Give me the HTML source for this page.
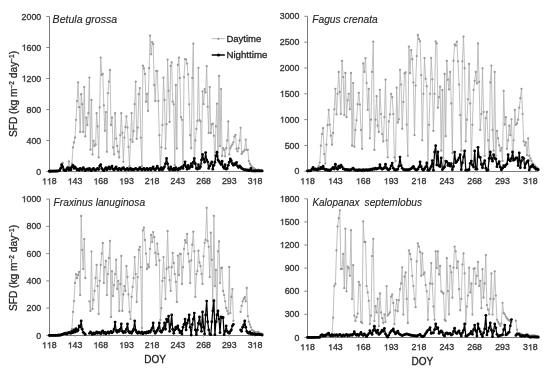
<!DOCTYPE html><html><head><meta charset="utf-8"><style>html,body{margin:0;padding:0;background:#fff;overflow:hidden}svg{display:block;will-change:transform}text{font-family:"Liberation Sans", sans-serif;stroke:#2a2a2a;stroke-width:0.3px;paint-order:stroke}</style></head><body>
<svg width="550" height="375" viewBox="0 0 550 375">
<rect width="550" height="375" fill="#fff"/>
<line x1="49.5" y1="16.5" x2="49.5" y2="171.5" stroke="#7c7c7c" stroke-width="1"/>
<line x1="46.30" y1="171.50" x2="49.5" y2="171.50" stroke="#7c7c7c" stroke-width="0.9"/>
<text x="36.31" y="174.60" font-size="8.8" fill="#333">0</text>
<line x1="46.30" y1="140.50" x2="49.5" y2="140.50" stroke="#7c7c7c" stroke-width="0.9"/>
<text x="26.52" y="143.60" font-size="8.8" fill="#333">4</text><text x="31.41" y="143.60" font-size="8.8" fill="#333">0</text><text x="36.31" y="143.60" font-size="8.8" fill="#333">0</text>
<line x1="46.30" y1="109.50" x2="49.5" y2="109.50" stroke="#7c7c7c" stroke-width="0.9"/>
<text x="26.52" y="112.60" font-size="8.8" fill="#333">8</text><text x="31.41" y="112.60" font-size="8.8" fill="#333">0</text><text x="36.31" y="112.60" font-size="8.8" fill="#333">0</text>
<line x1="46.30" y1="78.50" x2="49.5" y2="78.50" stroke="#7c7c7c" stroke-width="0.9"/>
<path d="M763,0L583,0L583,1147C540,1106 483,1064 412,1023C341,982 277,951 223,931L223,1105C320,1150 405,1206 478,1270C551,1334 603,1390 630,1409L763,1409Z" transform="translate(21.62,81.60) scale(0.00430,-0.00430)" fill="#333" stroke="#2a2a2a" stroke-width="0.3" vector-effect="non-scaling-stroke"/><text x="26.52" y="81.60" font-size="8.8" fill="#333">2</text><text x="31.41" y="81.60" font-size="8.8" fill="#333">0</text><text x="36.31" y="81.60" font-size="8.8" fill="#333">0</text>
<line x1="46.30" y1="47.50" x2="49.5" y2="47.50" stroke="#7c7c7c" stroke-width="0.9"/>
<path d="M763,0L583,0L583,1147C540,1106 483,1064 412,1023C341,982 277,951 223,931L223,1105C320,1150 405,1206 478,1270C551,1334 603,1390 630,1409L763,1409Z" transform="translate(21.62,50.60) scale(0.00430,-0.00430)" fill="#333" stroke="#2a2a2a" stroke-width="0.3" vector-effect="non-scaling-stroke"/><text x="26.52" y="50.60" font-size="8.8" fill="#333">6</text><text x="31.41" y="50.60" font-size="8.8" fill="#333">0</text><text x="36.31" y="50.60" font-size="8.8" fill="#333">0</text>
<line x1="46.30" y1="16.50" x2="49.5" y2="16.50" stroke="#7c7c7c" stroke-width="0.9"/>
<text x="21.62" y="19.60" font-size="8.8" fill="#333">2</text><text x="26.52" y="19.60" font-size="8.8" fill="#333">0</text><text x="31.41" y="19.60" font-size="8.8" fill="#333">0</text><text x="36.31" y="19.60" font-size="8.8" fill="#333">0</text>
<line x1="49.5" y1="171.5" x2="262.2" y2="171.5" stroke="#7c7c7c" stroke-width="1"/>
<line x1="49.30" y1="171.5" x2="49.30" y2="173.70" stroke="#bbb" stroke-width="0.8"/>
<path d="M763,0L583,0L583,1147C540,1106 483,1064 412,1023C341,982 277,951 223,931L223,1105C320,1150 405,1206 478,1270C551,1334 603,1390 630,1409L763,1409Z" transform="translate(41.96,184.40) scale(0.00430,-0.00430)" fill="#333" stroke="#2a2a2a" stroke-width="0.3" vector-effect="non-scaling-stroke"/><path d="M763,0L583,0L583,1147C540,1106 483,1064 412,1023C341,982 277,951 223,931L223,1105C320,1150 405,1206 478,1270C551,1334 603,1390 630,1409L763,1409Z" transform="translate(46.85,184.40) scale(0.00430,-0.00430)" fill="#333" stroke="#2a2a2a" stroke-width="0.3" vector-effect="non-scaling-stroke"/><text x="51.75" y="184.40" font-size="8.8" fill="#333">8</text>
<line x1="75.01" y1="171.5" x2="75.01" y2="173.70" stroke="#bbb" stroke-width="0.8"/>
<path d="M763,0L583,0L583,1147C540,1106 483,1064 412,1023C341,982 277,951 223,931L223,1105C320,1150 405,1206 478,1270C551,1334 603,1390 630,1409L763,1409Z" transform="translate(67.67,184.40) scale(0.00430,-0.00430)" fill="#333" stroke="#2a2a2a" stroke-width="0.3" vector-effect="non-scaling-stroke"/><text x="72.57" y="184.40" font-size="8.8" fill="#333">4</text><text x="77.46" y="184.40" font-size="8.8" fill="#333">3</text>
<line x1="100.73" y1="171.5" x2="100.73" y2="173.70" stroke="#bbb" stroke-width="0.8"/>
<path d="M763,0L583,0L583,1147C540,1106 483,1064 412,1023C341,982 277,951 223,931L223,1105C320,1150 405,1206 478,1270C551,1334 603,1390 630,1409L763,1409Z" transform="translate(93.38,184.40) scale(0.00430,-0.00430)" fill="#333" stroke="#2a2a2a" stroke-width="0.3" vector-effect="non-scaling-stroke"/><text x="98.28" y="184.40" font-size="8.8" fill="#333">6</text><text x="103.17" y="184.40" font-size="8.8" fill="#333">8</text>
<line x1="126.44" y1="171.5" x2="126.44" y2="173.70" stroke="#bbb" stroke-width="0.8"/>
<path d="M763,0L583,0L583,1147C540,1106 483,1064 412,1023C341,982 277,951 223,931L223,1105C320,1150 405,1206 478,1270C551,1334 603,1390 630,1409L763,1409Z" transform="translate(119.10,184.40) scale(0.00430,-0.00430)" fill="#333" stroke="#2a2a2a" stroke-width="0.3" vector-effect="non-scaling-stroke"/><text x="123.99" y="184.40" font-size="8.8" fill="#333">9</text><text x="128.88" y="184.40" font-size="8.8" fill="#333">3</text>
<line x1="152.15" y1="171.5" x2="152.15" y2="173.70" stroke="#bbb" stroke-width="0.8"/>
<text x="144.81" y="184.40" font-size="8.8" fill="#333">2</text><path d="M763,0L583,0L583,1147C540,1106 483,1064 412,1023C341,982 277,951 223,931L223,1105C320,1150 405,1206 478,1270C551,1334 603,1390 630,1409L763,1409Z" transform="translate(149.70,184.40) scale(0.00430,-0.00430)" fill="#333" stroke="#2a2a2a" stroke-width="0.3" vector-effect="non-scaling-stroke"/><text x="154.60" y="184.40" font-size="8.8" fill="#333">8</text>
<line x1="177.86" y1="171.5" x2="177.86" y2="173.70" stroke="#bbb" stroke-width="0.8"/>
<text x="170.52" y="184.40" font-size="8.8" fill="#333">2</text><text x="175.42" y="184.40" font-size="8.8" fill="#333">4</text><text x="180.31" y="184.40" font-size="8.8" fill="#333">3</text>
<line x1="203.58" y1="171.5" x2="203.58" y2="173.70" stroke="#bbb" stroke-width="0.8"/>
<text x="196.23" y="184.40" font-size="8.8" fill="#333">2</text><text x="201.13" y="184.40" font-size="8.8" fill="#333">6</text><text x="206.02" y="184.40" font-size="8.8" fill="#333">8</text>
<line x1="229.29" y1="171.5" x2="229.29" y2="173.70" stroke="#bbb" stroke-width="0.8"/>
<text x="221.95" y="184.40" font-size="8.8" fill="#333">2</text><text x="226.84" y="184.40" font-size="8.8" fill="#333">9</text><text x="231.73" y="184.40" font-size="8.8" fill="#333">3</text>
<line x1="255.00" y1="171.5" x2="255.00" y2="173.70" stroke="#bbb" stroke-width="0.8"/>
<text x="247.66" y="184.40" font-size="8.8" fill="#333">3</text><path d="M763,0L583,0L583,1147C540,1106 483,1064 412,1023C341,982 277,951 223,931L223,1105C320,1150 405,1206 478,1270C551,1334 603,1390 630,1409L763,1409Z" transform="translate(252.55,184.40) scale(0.00430,-0.00430)" fill="#333" stroke="#2a2a2a" stroke-width="0.3" vector-effect="non-scaling-stroke"/><text x="257.45" y="184.40" font-size="8.8" fill="#333">8</text>
<text x="52.6" y="23.0" font-size="10.4" font-style="italic" fill="#222" style="stroke-width:0.12px" textLength="64.6" lengthAdjust="spacingAndGlyphs">Betula grossa</text>
<path d="M49.3,170.9 50.3,171.2 51.4,170.7 52.4,171.0 53.4,170.6 54.4,171.1 55.5,170.7 56.5,170.4 57.5,170.9 58.6,170.3 59.6,169.9 60.6,168.8 61.6,165.9 62.7,163.0 63.7,168.4 64.7,169.6 65.8,169.9 66.8,168.0 67.8,169.2 68.8,161.4 69.9,166.8 70.9,168.4 71.9,163.8 73.0,147.5 74.0,142.5 75.0,137.6 76.0,119.8 77.1,101.1 78.1,82.4 79.1,107.2 80.2,132.0 81.2,94.2 82.2,104.2 83.2,132.0 84.3,87.0 85.3,136.4 86.3,117.6 87.4,125.0 88.4,113.1 89.4,77.6 90.4,149.6 91.5,99.9 92.5,154.4 93.5,140.8 94.6,145.9 95.6,144.4 96.6,113.1 97.6,126.4 98.7,157.4 99.7,107.5 100.7,57.6 101.8,75.0 102.8,73.8 103.8,105.4 104.8,130.8 105.9,112.1 106.9,151.8 107.9,93.2 109.0,81.6 110.0,70.0 111.0,125.0 112.0,117.6 113.1,147.4 114.1,154.4 115.1,113.1 116.2,138.6 117.2,145.9 118.2,151.7 119.2,157.4 120.3,135.3 121.3,113.1 122.3,132.8 123.4,161.8 124.4,137.6 125.4,127.0 126.4,116.5 127.5,127.6 128.5,146.9 129.5,166.2 130.6,139.7 131.6,113.1 132.6,141.9 133.6,131.2 134.7,104.2 135.7,81.6 136.7,138.9 137.8,127.6 138.8,94.2 139.8,88.0 140.8,137.6 141.9,166.2 142.9,65.6 143.9,68.4 145.0,74.0 146.0,101.8 147.0,94.0 148.0,110.9 149.1,68.2 150.1,35.6 151.1,54.3 152.2,42.1 153.2,44.0 154.2,85.0 155.2,101.0 156.3,71.0 157.3,71.1 158.3,101.0 159.3,135.3 160.4,169.6 161.4,147.3 162.4,125.0 163.5,77.6 164.5,99.9 165.5,148.6 166.5,124.2 167.6,59.6 168.6,90.8 169.6,122.0 170.7,66.0 171.7,62.5 172.7,101.8 173.7,104.3 174.8,165.1 175.8,85.0 176.8,148.6 177.9,65.0 178.9,57.7 179.9,78.0 180.9,117.2 182.0,119.8 183.0,166.2 184.0,77.0 185.1,59.0 186.1,59.6 187.1,63.6 188.1,74.4 189.2,104.3 190.2,135.2 191.2,148.2 192.3,78.0 193.3,43.6 194.3,164.1 195.3,140.5 196.4,128.9 197.4,120.9 198.4,67.8 199.5,120.0 200.5,121.4 201.5,163.8 202.5,91.3 203.6,104.1 204.6,89.1 205.6,92.4 206.7,66.1 207.7,106.9 208.7,132.9 209.7,87.0 210.8,133.0 211.8,124.3 212.8,123.7 213.9,135.8 214.9,163.8 215.9,126.5 216.9,103.6 218.0,156.0 219.0,75.9 220.0,146.1 221.1,89.1 222.1,156.0 223.1,148.2 224.1,149.8 225.2,156.3 226.2,148.2 227.2,140.5 228.3,121.4 229.3,154.4 230.3,148.2 231.3,146.1 232.4,144.4 233.4,142.4 234.4,136.6 235.5,134.8 236.5,148.9 237.5,151.3 238.5,148.2 239.6,140.5 240.6,127.8 241.6,153.9 242.7,152.1 243.7,151.3 244.7,149.8 245.7,139.6 246.8,149.8 247.8,149.8 248.8,161.0 249.9,163.8 250.9,165.3 251.9,166.8 252.9,167.6 254.0,168.5 255.0,169.2 256.0,169.9 257.1,170.3 258.1,169.6 259.1,170.7 260.1,170.3 261.2,170.7 262.2,171.1" fill="none" stroke="#b0b0b0" stroke-width="0.8"/>
<circle cx="49.30" cy="170.88" r="1.15" fill="#999"/>
<circle cx="50.33" cy="171.19" r="1.15" fill="#999"/>
<circle cx="51.36" cy="170.72" r="1.15" fill="#999"/>
<circle cx="52.39" cy="171.03" r="1.15" fill="#999"/>
<circle cx="53.41" cy="170.57" r="1.15" fill="#999"/>
<circle cx="54.44" cy="171.11" r="1.15" fill="#999"/>
<circle cx="55.47" cy="170.72" r="1.15" fill="#999"/>
<circle cx="56.50" cy="170.41" r="1.15" fill="#999"/>
<circle cx="57.53" cy="170.88" r="1.15" fill="#999"/>
<circle cx="58.56" cy="170.34" r="1.15" fill="#999"/>
<circle cx="59.59" cy="169.95" r="1.15" fill="#999"/>
<circle cx="60.61" cy="168.79" r="1.15" fill="#999"/>
<circle cx="61.64" cy="165.88" r="1.15" fill="#999"/>
<circle cx="62.67" cy="162.97" r="1.15" fill="#999"/>
<circle cx="63.70" cy="168.40" r="1.15" fill="#999"/>
<circle cx="64.73" cy="169.56" r="1.15" fill="#999"/>
<circle cx="65.76" cy="169.95" r="1.15" fill="#999"/>
<circle cx="66.78" cy="168.01" r="1.15" fill="#999"/>
<circle cx="67.81" cy="169.18" r="1.15" fill="#999"/>
<circle cx="68.84" cy="161.43" r="1.15" fill="#999"/>
<circle cx="69.87" cy="166.85" r="1.15" fill="#999"/>
<circle cx="70.90" cy="168.40" r="1.15" fill="#999"/>
<circle cx="71.93" cy="163.75" r="1.15" fill="#999"/>
<circle cx="72.96" cy="147.47" r="1.15" fill="#999"/>
<circle cx="73.98" cy="142.51" r="1.15" fill="#999"/>
<circle cx="75.01" cy="137.56" r="1.15" fill="#999"/>
<circle cx="76.04" cy="119.81" r="1.15" fill="#999"/>
<circle cx="77.07" cy="101.09" r="1.15" fill="#999"/>
<circle cx="78.10" cy="82.38" r="1.15" fill="#999"/>
<circle cx="79.13" cy="107.17" r="1.15" fill="#999"/>
<circle cx="80.16" cy="131.97" r="1.15" fill="#999"/>
<circle cx="81.18" cy="94.23" r="1.15" fill="#999"/>
<circle cx="82.21" cy="104.23" r="1.15" fill="#999"/>
<circle cx="83.24" cy="131.97" r="1.15" fill="#999"/>
<circle cx="84.27" cy="87.03" r="1.15" fill="#999"/>
<circle cx="85.30" cy="136.39" r="1.15" fill="#999"/>
<circle cx="86.33" cy="117.56" r="1.15" fill="#999"/>
<circle cx="87.35" cy="125.00" r="1.15" fill="#999"/>
<circle cx="88.38" cy="113.14" r="1.15" fill="#999"/>
<circle cx="89.41" cy="77.57" r="1.15" fill="#999"/>
<circle cx="90.44" cy="149.65" r="1.15" fill="#999"/>
<circle cx="91.47" cy="99.89" r="1.15" fill="#999"/>
<circle cx="92.50" cy="154.45" r="1.15" fill="#999"/>
<circle cx="93.53" cy="140.81" r="1.15" fill="#999"/>
<circle cx="94.55" cy="145.93" r="1.15" fill="#999"/>
<circle cx="95.58" cy="144.38" r="1.15" fill="#999"/>
<circle cx="96.61" cy="113.14" r="1.15" fill="#999"/>
<circle cx="97.64" cy="126.40" r="1.15" fill="#999"/>
<circle cx="98.67" cy="157.40" r="1.15" fill="#999"/>
<circle cx="99.70" cy="107.48" r="1.15" fill="#999"/>
<circle cx="100.73" cy="57.58" r="1.15" fill="#999"/>
<circle cx="101.75" cy="75.01" r="1.15" fill="#999"/>
<circle cx="102.78" cy="73.85" r="1.15" fill="#999"/>
<circle cx="103.81" cy="105.39" r="1.15" fill="#999"/>
<circle cx="104.84" cy="130.81" r="1.15" fill="#999"/>
<circle cx="105.87" cy="112.06" r="1.15" fill="#999"/>
<circle cx="106.90" cy="151.81" r="1.15" fill="#999"/>
<circle cx="107.92" cy="93.22" r="1.15" fill="#999"/>
<circle cx="108.95" cy="81.60" r="1.15" fill="#999"/>
<circle cx="109.98" cy="69.97" r="1.15" fill="#999"/>
<circle cx="111.01" cy="125.00" r="1.15" fill="#999"/>
<circle cx="112.04" cy="117.56" r="1.15" fill="#999"/>
<circle cx="113.07" cy="147.40" r="1.15" fill="#999"/>
<circle cx="114.10" cy="154.45" r="1.15" fill="#999"/>
<circle cx="115.12" cy="113.14" r="1.15" fill="#999"/>
<circle cx="116.15" cy="138.56" r="1.15" fill="#999"/>
<circle cx="117.18" cy="145.93" r="1.15" fill="#999"/>
<circle cx="118.21" cy="151.66" r="1.15" fill="#999"/>
<circle cx="119.24" cy="157.40" r="1.15" fill="#999"/>
<circle cx="120.27" cy="135.27" r="1.15" fill="#999"/>
<circle cx="121.30" cy="113.14" r="1.15" fill="#999"/>
<circle cx="122.32" cy="132.75" r="1.15" fill="#999"/>
<circle cx="123.35" cy="161.81" r="1.15" fill="#999"/>
<circle cx="124.38" cy="137.56" r="1.15" fill="#999"/>
<circle cx="125.41" cy="127.02" r="1.15" fill="#999"/>
<circle cx="126.44" cy="116.47" r="1.15" fill="#999"/>
<circle cx="127.47" cy="127.56" r="1.15" fill="#999"/>
<circle cx="128.49" cy="146.89" r="1.15" fill="#999"/>
<circle cx="129.52" cy="166.23" r="1.15" fill="#999"/>
<circle cx="130.55" cy="139.69" r="1.15" fill="#999"/>
<circle cx="131.58" cy="113.14" r="1.15" fill="#999"/>
<circle cx="132.61" cy="141.90" r="1.15" fill="#999"/>
<circle cx="133.64" cy="131.20" r="1.15" fill="#999"/>
<circle cx="134.67" cy="104.23" r="1.15" fill="#999"/>
<circle cx="135.69" cy="81.60" r="1.15" fill="#999"/>
<circle cx="136.72" cy="138.95" r="1.15" fill="#999"/>
<circle cx="137.75" cy="127.56" r="1.15" fill="#999"/>
<circle cx="138.78" cy="94.23" r="1.15" fill="#999"/>
<circle cx="139.81" cy="88.03" r="1.15" fill="#999"/>
<circle cx="140.84" cy="137.56" r="1.15" fill="#999"/>
<circle cx="141.87" cy="166.23" r="1.15" fill="#999"/>
<circle cx="142.89" cy="65.64" r="1.15" fill="#999"/>
<circle cx="143.92" cy="68.42" r="1.15" fill="#999"/>
<circle cx="144.95" cy="74.00" r="1.15" fill="#999"/>
<circle cx="145.98" cy="101.75" r="1.15" fill="#999"/>
<circle cx="147.01" cy="94.00" r="1.15" fill="#999"/>
<circle cx="148.04" cy="110.90" r="1.15" fill="#999"/>
<circle cx="149.06" cy="68.19" r="1.15" fill="#999"/>
<circle cx="150.09" cy="35.56" r="1.15" fill="#999"/>
<circle cx="151.12" cy="54.32" r="1.15" fill="#999"/>
<circle cx="152.15" cy="42.07" r="1.15" fill="#999"/>
<circle cx="153.18" cy="44.01" r="1.15" fill="#999"/>
<circle cx="154.21" cy="85.01" r="1.15" fill="#999"/>
<circle cx="155.24" cy="100.97" r="1.15" fill="#999"/>
<circle cx="156.26" cy="70.98" r="1.15" fill="#999"/>
<circle cx="157.29" cy="71.06" r="1.15" fill="#999"/>
<circle cx="158.32" cy="100.97" r="1.15" fill="#999"/>
<circle cx="159.35" cy="135.27" r="1.15" fill="#999"/>
<circle cx="160.38" cy="169.56" r="1.15" fill="#999"/>
<circle cx="161.41" cy="147.28" r="1.15" fill="#999"/>
<circle cx="162.44" cy="125.00" r="1.15" fill="#999"/>
<circle cx="163.46" cy="77.65" r="1.15" fill="#999"/>
<circle cx="164.49" cy="99.89" r="1.15" fill="#999"/>
<circle cx="165.52" cy="148.56" r="1.15" fill="#999"/>
<circle cx="166.55" cy="124.22" r="1.15" fill="#999"/>
<circle cx="167.58" cy="59.59" r="1.15" fill="#999"/>
<circle cx="168.61" cy="90.78" r="1.15" fill="#999"/>
<circle cx="169.63" cy="121.98" r="1.15" fill="#999"/>
<circle cx="170.66" cy="66.02" r="1.15" fill="#999"/>
<circle cx="171.69" cy="62.46" r="1.15" fill="#999"/>
<circle cx="172.72" cy="101.75" r="1.15" fill="#999"/>
<circle cx="173.75" cy="104.31" r="1.15" fill="#999"/>
<circle cx="174.78" cy="165.15" r="1.15" fill="#999"/>
<circle cx="175.81" cy="85.01" r="1.15" fill="#999"/>
<circle cx="176.83" cy="148.56" r="1.15" fill="#999"/>
<circle cx="177.86" cy="65.02" r="1.15" fill="#999"/>
<circle cx="178.89" cy="57.65" r="1.15" fill="#999"/>
<circle cx="179.92" cy="78.03" r="1.15" fill="#999"/>
<circle cx="180.95" cy="117.25" r="1.15" fill="#999"/>
<circle cx="181.98" cy="119.81" r="1.15" fill="#999"/>
<circle cx="183.01" cy="166.23" r="1.15" fill="#999"/>
<circle cx="184.03" cy="77.03" r="1.15" fill="#999"/>
<circle cx="185.06" cy="59.05" r="1.15" fill="#999"/>
<circle cx="186.09" cy="59.59" r="1.15" fill="#999"/>
<circle cx="187.12" cy="63.62" r="1.15" fill="#999"/>
<circle cx="188.15" cy="74.39" r="1.15" fill="#999"/>
<circle cx="189.18" cy="104.31" r="1.15" fill="#999"/>
<circle cx="190.20" cy="135.23" r="1.15" fill="#999"/>
<circle cx="191.23" cy="148.25" r="1.15" fill="#999"/>
<circle cx="192.26" cy="78.03" r="1.15" fill="#999"/>
<circle cx="193.29" cy="43.62" r="1.15" fill="#999"/>
<circle cx="194.32" cy="164.06" r="1.15" fill="#999"/>
<circle cx="195.35" cy="140.50" r="1.15" fill="#999"/>
<circle cx="196.38" cy="128.88" r="1.15" fill="#999"/>
<circle cx="197.40" cy="120.89" r="1.15" fill="#999"/>
<circle cx="198.43" cy="67.81" r="1.15" fill="#999"/>
<circle cx="199.46" cy="120.04" r="1.15" fill="#999"/>
<circle cx="200.49" cy="121.44" r="1.15" fill="#999"/>
<circle cx="201.52" cy="163.75" r="1.15" fill="#999"/>
<circle cx="202.55" cy="91.29" r="1.15" fill="#999"/>
<circle cx="203.58" cy="104.08" r="1.15" fill="#999"/>
<circle cx="204.60" cy="89.12" r="1.15" fill="#999"/>
<circle cx="205.63" cy="92.37" r="1.15" fill="#999"/>
<circle cx="206.66" cy="66.10" r="1.15" fill="#999"/>
<circle cx="207.69" cy="106.86" r="1.15" fill="#999"/>
<circle cx="208.72" cy="132.91" r="1.15" fill="#999"/>
<circle cx="209.75" cy="87.03" r="1.15" fill="#999"/>
<circle cx="210.77" cy="132.98" r="1.15" fill="#999"/>
<circle cx="211.80" cy="124.30" r="1.15" fill="#999"/>
<circle cx="212.83" cy="123.68" r="1.15" fill="#999"/>
<circle cx="213.86" cy="135.85" r="1.15" fill="#999"/>
<circle cx="214.89" cy="163.75" r="1.15" fill="#999"/>
<circle cx="215.92" cy="126.47" r="1.15" fill="#999"/>
<circle cx="216.95" cy="103.61" r="1.15" fill="#999"/>
<circle cx="217.97" cy="156.00" r="1.15" fill="#999"/>
<circle cx="219.00" cy="75.94" r="1.15" fill="#999"/>
<circle cx="220.03" cy="146.08" r="1.15" fill="#999"/>
<circle cx="221.06" cy="89.12" r="1.15" fill="#999"/>
<circle cx="222.09" cy="156.00" r="1.15" fill="#999"/>
<circle cx="223.12" cy="148.25" r="1.15" fill="#999"/>
<circle cx="224.15" cy="149.80" r="1.15" fill="#999"/>
<circle cx="225.17" cy="156.31" r="1.15" fill="#999"/>
<circle cx="226.20" cy="148.25" r="1.15" fill="#999"/>
<circle cx="227.23" cy="140.50" r="1.15" fill="#999"/>
<circle cx="228.26" cy="121.44" r="1.15" fill="#999"/>
<circle cx="229.29" cy="154.45" r="1.15" fill="#999"/>
<circle cx="230.32" cy="148.25" r="1.15" fill="#999"/>
<circle cx="231.34" cy="146.08" r="1.15" fill="#999"/>
<circle cx="232.37" cy="144.38" r="1.15" fill="#999"/>
<circle cx="233.40" cy="142.36" r="1.15" fill="#999"/>
<circle cx="234.43" cy="136.62" r="1.15" fill="#999"/>
<circle cx="235.46" cy="134.84" r="1.15" fill="#999"/>
<circle cx="236.49" cy="148.87" r="1.15" fill="#999"/>
<circle cx="237.52" cy="151.35" r="1.15" fill="#999"/>
<circle cx="238.54" cy="148.25" r="1.15" fill="#999"/>
<circle cx="239.57" cy="140.50" r="1.15" fill="#999"/>
<circle cx="240.60" cy="127.79" r="1.15" fill="#999"/>
<circle cx="241.63" cy="153.91" r="1.15" fill="#999"/>
<circle cx="242.66" cy="152.12" r="1.15" fill="#999"/>
<circle cx="243.69" cy="151.35" r="1.15" fill="#999"/>
<circle cx="244.72" cy="149.80" r="1.15" fill="#999"/>
<circle cx="245.74" cy="139.57" r="1.15" fill="#999"/>
<circle cx="246.77" cy="149.80" r="1.15" fill="#999"/>
<circle cx="247.80" cy="149.80" r="1.15" fill="#999"/>
<circle cx="248.83" cy="161.04" r="1.15" fill="#999"/>
<circle cx="249.86" cy="163.75" r="1.15" fill="#999"/>
<circle cx="250.89" cy="165.30" r="1.15" fill="#999"/>
<circle cx="251.91" cy="166.85" r="1.15" fill="#999"/>
<circle cx="252.94" cy="167.62" r="1.15" fill="#999"/>
<circle cx="253.97" cy="168.48" r="1.15" fill="#999"/>
<circle cx="255.00" cy="169.18" r="1.15" fill="#999"/>
<circle cx="256.03" cy="169.95" r="1.15" fill="#999"/>
<circle cx="257.06" cy="170.34" r="1.15" fill="#999"/>
<circle cx="258.09" cy="169.56" r="1.15" fill="#999"/>
<circle cx="259.11" cy="170.72" r="1.15" fill="#999"/>
<circle cx="260.14" cy="170.34" r="1.15" fill="#999"/>
<circle cx="261.17" cy="170.72" r="1.15" fill="#999"/>
<circle cx="262.20" cy="171.11" r="1.15" fill="#999"/>
<path d="M49.3,171.3 50.3,171.2 51.4,171.2 52.4,171.2 53.4,171.2 54.4,171.2 55.5,171.2 56.5,171.1 57.5,171.1 58.6,170.9 59.6,170.7 60.6,168.4 61.6,164.5 62.7,166.8 63.7,169.9 64.7,170.3 65.8,170.7 66.8,169.2 67.8,167.6 68.8,169.9 69.9,168.4 70.9,169.9 71.9,166.8 73.0,165.3 74.0,168.4 75.0,166.8 76.0,168.4 77.1,169.9 78.1,169.2 79.1,170.3 80.2,168.4 81.2,169.2 82.2,169.9 83.2,167.6 84.3,169.2 85.3,170.7 86.3,169.6 87.4,168.8 88.4,169.9 89.4,168.4 90.4,169.9 91.5,170.7 92.5,169.2 93.5,168.4 94.6,169.9 95.6,170.3 96.6,169.2 97.6,168.4 98.7,169.6 99.7,166.1 100.7,164.5 101.8,168.4 102.8,169.9 103.8,170.7 104.8,169.2 105.9,167.6 106.9,169.9 107.9,168.4 109.0,166.8 110.0,169.2 111.0,167.6 112.0,166.1 113.1,169.2 114.1,169.9 115.1,168.4 116.2,166.8 117.2,169.2 118.2,169.9 119.2,168.4 120.3,169.2 121.3,169.9 122.3,168.4 123.4,167.6 124.4,169.2 125.4,169.9 126.4,169.2 127.5,168.4 128.5,169.9 129.5,169.2 130.6,168.4 131.6,169.9 132.6,169.2 133.6,169.9 134.7,169.2 135.7,168.4 136.7,169.2 137.8,169.9 138.8,169.2 139.8,167.6 140.8,169.2 141.9,169.9 142.9,169.2 143.9,168.4 145.0,169.9 146.0,169.2 147.0,168.4 148.0,169.9 149.1,169.2 150.1,168.4 151.1,169.9 152.2,168.4 153.2,166.8 154.2,169.2 155.2,169.9 156.3,168.4 157.3,166.1 158.3,168.4 159.3,169.9 160.4,169.2 161.4,167.6 162.4,169.9 163.5,168.4 164.5,166.8 165.5,163.8 166.5,158.5 167.6,163.8 168.6,168.4 169.6,169.9 170.7,166.8 171.7,169.2 172.7,169.9 173.7,168.4 174.8,169.9 175.8,167.6 176.8,169.2 177.9,169.9 178.9,168.4 179.9,169.2 180.9,167.6 182.0,166.8 183.0,168.4 184.0,165.3 185.1,161.8 186.1,166.8 187.1,169.2 188.1,165.3 189.2,168.4 190.2,166.8 191.2,163.8 192.3,166.8 193.3,162.2 194.3,158.5 195.3,163.8 196.4,168.4 197.4,169.2 198.4,164.8 199.5,168.4 200.5,166.8 201.5,159.9 202.5,154.4 203.6,159.1 204.6,162.2 205.6,152.6 206.7,159.9 207.7,161.8 208.7,168.4 209.7,166.1 210.8,163.8 211.8,161.8 212.8,169.2 213.9,165.3 214.9,162.2 215.9,156.0 216.9,152.2 218.0,159.9 219.0,161.4 220.0,163.0 221.1,164.5 222.1,161.2 223.1,166.8 224.1,168.4 225.2,164.8 226.2,169.2 227.2,168.4 228.3,165.3 229.3,162.2 230.3,158.8 231.3,160.7 232.4,163.8 233.4,165.3 234.4,163.8 235.5,164.5 236.5,162.4 237.5,166.1 238.5,167.6 239.6,166.0 240.6,166.8 241.6,168.4 242.7,168.8 243.7,169.6 244.7,169.9 245.7,169.6 246.8,170.3 247.8,169.9 248.8,170.7 249.9,170.3 250.9,168.4 251.9,170.9 252.9,170.9 254.0,170.9 255.0,170.9 256.0,170.9 257.1,170.9 258.1,170.9 259.1,170.9 260.1,170.9 261.2,170.9 262.2,170.9" fill="none" stroke="#000" stroke-width="1.25" stroke-linejoin="round"/>
<circle cx="49.30" cy="171.27" r="1.4" fill="#000"/>
<circle cx="50.33" cy="171.25" r="1.4" fill="#000"/>
<circle cx="51.36" cy="171.23" r="1.4" fill="#000"/>
<circle cx="52.39" cy="171.21" r="1.4" fill="#000"/>
<circle cx="53.41" cy="171.19" r="1.4" fill="#000"/>
<circle cx="54.44" cy="171.17" r="1.4" fill="#000"/>
<circle cx="55.47" cy="171.15" r="1.4" fill="#000"/>
<circle cx="56.50" cy="171.13" r="1.4" fill="#000"/>
<circle cx="57.53" cy="171.11" r="1.4" fill="#000"/>
<circle cx="58.56" cy="170.92" r="1.4" fill="#000"/>
<circle cx="59.59" cy="170.72" r="1.4" fill="#000"/>
<circle cx="60.61" cy="168.40" r="1.4" fill="#000"/>
<circle cx="61.64" cy="164.53" r="1.4" fill="#000"/>
<circle cx="62.67" cy="166.85" r="1.4" fill="#000"/>
<circle cx="63.70" cy="169.95" r="1.4" fill="#000"/>
<circle cx="64.73" cy="170.34" r="1.4" fill="#000"/>
<circle cx="65.76" cy="170.72" r="1.4" fill="#000"/>
<circle cx="66.78" cy="169.18" r="1.4" fill="#000"/>
<circle cx="67.81" cy="167.62" r="1.4" fill="#000"/>
<circle cx="68.84" cy="169.95" r="1.4" fill="#000"/>
<circle cx="69.87" cy="168.40" r="1.4" fill="#000"/>
<circle cx="70.90" cy="169.95" r="1.4" fill="#000"/>
<circle cx="71.93" cy="166.85" r="1.4" fill="#000"/>
<circle cx="72.96" cy="165.30" r="1.4" fill="#000"/>
<circle cx="73.98" cy="168.40" r="1.4" fill="#000"/>
<circle cx="75.01" cy="166.85" r="1.4" fill="#000"/>
<circle cx="76.04" cy="168.40" r="1.4" fill="#000"/>
<circle cx="77.07" cy="169.95" r="1.4" fill="#000"/>
<circle cx="78.10" cy="169.18" r="1.4" fill="#000"/>
<circle cx="79.13" cy="170.34" r="1.4" fill="#000"/>
<circle cx="80.16" cy="168.40" r="1.4" fill="#000"/>
<circle cx="81.18" cy="169.18" r="1.4" fill="#000"/>
<circle cx="82.21" cy="169.95" r="1.4" fill="#000"/>
<circle cx="83.24" cy="167.62" r="1.4" fill="#000"/>
<circle cx="84.27" cy="169.18" r="1.4" fill="#000"/>
<circle cx="85.30" cy="170.72" r="1.4" fill="#000"/>
<circle cx="86.33" cy="169.56" r="1.4" fill="#000"/>
<circle cx="87.35" cy="168.79" r="1.4" fill="#000"/>
<circle cx="88.38" cy="169.95" r="1.4" fill="#000"/>
<circle cx="89.41" cy="168.40" r="1.4" fill="#000"/>
<circle cx="90.44" cy="169.95" r="1.4" fill="#000"/>
<circle cx="91.47" cy="170.72" r="1.4" fill="#000"/>
<circle cx="92.50" cy="169.18" r="1.4" fill="#000"/>
<circle cx="93.53" cy="168.40" r="1.4" fill="#000"/>
<circle cx="94.55" cy="169.95" r="1.4" fill="#000"/>
<circle cx="95.58" cy="170.34" r="1.4" fill="#000"/>
<circle cx="96.61" cy="169.18" r="1.4" fill="#000"/>
<circle cx="97.64" cy="168.40" r="1.4" fill="#000"/>
<circle cx="98.67" cy="169.56" r="1.4" fill="#000"/>
<circle cx="99.70" cy="166.07" r="1.4" fill="#000"/>
<circle cx="100.73" cy="164.53" r="1.4" fill="#000"/>
<circle cx="101.75" cy="168.40" r="1.4" fill="#000"/>
<circle cx="102.78" cy="169.95" r="1.4" fill="#000"/>
<circle cx="103.81" cy="170.72" r="1.4" fill="#000"/>
<circle cx="104.84" cy="169.18" r="1.4" fill="#000"/>
<circle cx="105.87" cy="167.62" r="1.4" fill="#000"/>
<circle cx="106.90" cy="169.95" r="1.4" fill="#000"/>
<circle cx="107.92" cy="168.40" r="1.4" fill="#000"/>
<circle cx="108.95" cy="166.85" r="1.4" fill="#000"/>
<circle cx="109.98" cy="169.18" r="1.4" fill="#000"/>
<circle cx="111.01" cy="167.62" r="1.4" fill="#000"/>
<circle cx="112.04" cy="166.07" r="1.4" fill="#000"/>
<circle cx="113.07" cy="169.18" r="1.4" fill="#000"/>
<circle cx="114.10" cy="169.95" r="1.4" fill="#000"/>
<circle cx="115.12" cy="168.40" r="1.4" fill="#000"/>
<circle cx="116.15" cy="166.85" r="1.4" fill="#000"/>
<circle cx="117.18" cy="169.18" r="1.4" fill="#000"/>
<circle cx="118.21" cy="169.95" r="1.4" fill="#000"/>
<circle cx="119.24" cy="168.40" r="1.4" fill="#000"/>
<circle cx="120.27" cy="169.18" r="1.4" fill="#000"/>
<circle cx="121.30" cy="169.95" r="1.4" fill="#000"/>
<circle cx="122.32" cy="168.40" r="1.4" fill="#000"/>
<circle cx="123.35" cy="167.62" r="1.4" fill="#000"/>
<circle cx="124.38" cy="169.18" r="1.4" fill="#000"/>
<circle cx="125.41" cy="169.95" r="1.4" fill="#000"/>
<circle cx="126.44" cy="169.18" r="1.4" fill="#000"/>
<circle cx="127.47" cy="168.40" r="1.4" fill="#000"/>
<circle cx="128.49" cy="169.95" r="1.4" fill="#000"/>
<circle cx="129.52" cy="169.18" r="1.4" fill="#000"/>
<circle cx="130.55" cy="168.40" r="1.4" fill="#000"/>
<circle cx="131.58" cy="169.95" r="1.4" fill="#000"/>
<circle cx="132.61" cy="169.18" r="1.4" fill="#000"/>
<circle cx="133.64" cy="169.95" r="1.4" fill="#000"/>
<circle cx="134.67" cy="169.18" r="1.4" fill="#000"/>
<circle cx="135.69" cy="168.40" r="1.4" fill="#000"/>
<circle cx="136.72" cy="169.18" r="1.4" fill="#000"/>
<circle cx="137.75" cy="169.95" r="1.4" fill="#000"/>
<circle cx="138.78" cy="169.18" r="1.4" fill="#000"/>
<circle cx="139.81" cy="167.62" r="1.4" fill="#000"/>
<circle cx="140.84" cy="169.18" r="1.4" fill="#000"/>
<circle cx="141.87" cy="169.95" r="1.4" fill="#000"/>
<circle cx="142.89" cy="169.18" r="1.4" fill="#000"/>
<circle cx="143.92" cy="168.40" r="1.4" fill="#000"/>
<circle cx="144.95" cy="169.95" r="1.4" fill="#000"/>
<circle cx="145.98" cy="169.18" r="1.4" fill="#000"/>
<circle cx="147.01" cy="168.40" r="1.4" fill="#000"/>
<circle cx="148.04" cy="169.95" r="1.4" fill="#000"/>
<circle cx="149.06" cy="169.18" r="1.4" fill="#000"/>
<circle cx="150.09" cy="168.40" r="1.4" fill="#000"/>
<circle cx="151.12" cy="169.95" r="1.4" fill="#000"/>
<circle cx="152.15" cy="168.40" r="1.4" fill="#000"/>
<circle cx="153.18" cy="166.85" r="1.4" fill="#000"/>
<circle cx="154.21" cy="169.18" r="1.4" fill="#000"/>
<circle cx="155.24" cy="169.95" r="1.4" fill="#000"/>
<circle cx="156.26" cy="168.40" r="1.4" fill="#000"/>
<circle cx="157.29" cy="166.07" r="1.4" fill="#000"/>
<circle cx="158.32" cy="168.40" r="1.4" fill="#000"/>
<circle cx="159.35" cy="169.95" r="1.4" fill="#000"/>
<circle cx="160.38" cy="169.18" r="1.4" fill="#000"/>
<circle cx="161.41" cy="167.62" r="1.4" fill="#000"/>
<circle cx="162.44" cy="169.95" r="1.4" fill="#000"/>
<circle cx="163.46" cy="168.40" r="1.4" fill="#000"/>
<circle cx="164.49" cy="166.85" r="1.4" fill="#000"/>
<circle cx="165.52" cy="163.75" r="1.4" fill="#000"/>
<circle cx="166.55" cy="158.48" r="1.4" fill="#000"/>
<circle cx="167.58" cy="163.75" r="1.4" fill="#000"/>
<circle cx="168.61" cy="168.40" r="1.4" fill="#000"/>
<circle cx="169.63" cy="169.95" r="1.4" fill="#000"/>
<circle cx="170.66" cy="166.85" r="1.4" fill="#000"/>
<circle cx="171.69" cy="169.18" r="1.4" fill="#000"/>
<circle cx="172.72" cy="169.95" r="1.4" fill="#000"/>
<circle cx="173.75" cy="168.40" r="1.4" fill="#000"/>
<circle cx="174.78" cy="169.95" r="1.4" fill="#000"/>
<circle cx="175.81" cy="167.62" r="1.4" fill="#000"/>
<circle cx="176.83" cy="169.18" r="1.4" fill="#000"/>
<circle cx="177.86" cy="169.95" r="1.4" fill="#000"/>
<circle cx="178.89" cy="168.40" r="1.4" fill="#000"/>
<circle cx="179.92" cy="169.18" r="1.4" fill="#000"/>
<circle cx="180.95" cy="167.62" r="1.4" fill="#000"/>
<circle cx="181.98" cy="166.85" r="1.4" fill="#000"/>
<circle cx="183.01" cy="168.40" r="1.4" fill="#000"/>
<circle cx="184.03" cy="165.30" r="1.4" fill="#000"/>
<circle cx="185.06" cy="161.81" r="1.4" fill="#000"/>
<circle cx="186.09" cy="166.85" r="1.4" fill="#000"/>
<circle cx="187.12" cy="169.18" r="1.4" fill="#000"/>
<circle cx="188.15" cy="165.30" r="1.4" fill="#000"/>
<circle cx="189.18" cy="168.40" r="1.4" fill="#000"/>
<circle cx="190.20" cy="166.85" r="1.4" fill="#000"/>
<circle cx="191.23" cy="163.75" r="1.4" fill="#000"/>
<circle cx="192.26" cy="166.85" r="1.4" fill="#000"/>
<circle cx="193.29" cy="162.20" r="1.4" fill="#000"/>
<circle cx="194.32" cy="158.48" r="1.4" fill="#000"/>
<circle cx="195.35" cy="163.75" r="1.4" fill="#000"/>
<circle cx="196.38" cy="168.40" r="1.4" fill="#000"/>
<circle cx="197.40" cy="169.18" r="1.4" fill="#000"/>
<circle cx="198.43" cy="164.76" r="1.4" fill="#000"/>
<circle cx="199.46" cy="168.40" r="1.4" fill="#000"/>
<circle cx="200.49" cy="166.85" r="1.4" fill="#000"/>
<circle cx="201.52" cy="159.88" r="1.4" fill="#000"/>
<circle cx="202.55" cy="154.45" r="1.4" fill="#000"/>
<circle cx="203.58" cy="159.10" r="1.4" fill="#000"/>
<circle cx="204.60" cy="162.20" r="1.4" fill="#000"/>
<circle cx="205.63" cy="152.59" r="1.4" fill="#000"/>
<circle cx="206.66" cy="159.88" r="1.4" fill="#000"/>
<circle cx="207.69" cy="161.81" r="1.4" fill="#000"/>
<circle cx="208.72" cy="168.40" r="1.4" fill="#000"/>
<circle cx="209.75" cy="166.07" r="1.4" fill="#000"/>
<circle cx="210.77" cy="163.75" r="1.4" fill="#000"/>
<circle cx="211.80" cy="161.81" r="1.4" fill="#000"/>
<circle cx="212.83" cy="169.18" r="1.4" fill="#000"/>
<circle cx="213.86" cy="165.30" r="1.4" fill="#000"/>
<circle cx="214.89" cy="162.20" r="1.4" fill="#000"/>
<circle cx="215.92" cy="156.00" r="1.4" fill="#000"/>
<circle cx="216.95" cy="152.20" r="1.4" fill="#000"/>
<circle cx="217.97" cy="159.88" r="1.4" fill="#000"/>
<circle cx="219.00" cy="161.43" r="1.4" fill="#000"/>
<circle cx="220.03" cy="162.97" r="1.4" fill="#000"/>
<circle cx="221.06" cy="164.53" r="1.4" fill="#000"/>
<circle cx="222.09" cy="161.19" r="1.4" fill="#000"/>
<circle cx="223.12" cy="166.85" r="1.4" fill="#000"/>
<circle cx="224.15" cy="168.40" r="1.4" fill="#000"/>
<circle cx="225.17" cy="164.76" r="1.4" fill="#000"/>
<circle cx="226.20" cy="169.18" r="1.4" fill="#000"/>
<circle cx="227.23" cy="168.40" r="1.4" fill="#000"/>
<circle cx="228.26" cy="165.30" r="1.4" fill="#000"/>
<circle cx="229.29" cy="162.20" r="1.4" fill="#000"/>
<circle cx="230.32" cy="158.79" r="1.4" fill="#000"/>
<circle cx="231.34" cy="160.65" r="1.4" fill="#000"/>
<circle cx="232.37" cy="163.75" r="1.4" fill="#000"/>
<circle cx="233.40" cy="165.30" r="1.4" fill="#000"/>
<circle cx="234.43" cy="163.75" r="1.4" fill="#000"/>
<circle cx="235.46" cy="164.53" r="1.4" fill="#000"/>
<circle cx="236.49" cy="162.35" r="1.4" fill="#000"/>
<circle cx="237.52" cy="166.07" r="1.4" fill="#000"/>
<circle cx="238.54" cy="167.62" r="1.4" fill="#000"/>
<circle cx="239.57" cy="166.00" r="1.4" fill="#000"/>
<circle cx="240.60" cy="166.85" r="1.4" fill="#000"/>
<circle cx="241.63" cy="168.40" r="1.4" fill="#000"/>
<circle cx="242.66" cy="168.79" r="1.4" fill="#000"/>
<circle cx="243.69" cy="169.56" r="1.4" fill="#000"/>
<circle cx="244.72" cy="169.95" r="1.4" fill="#000"/>
<circle cx="245.74" cy="169.56" r="1.4" fill="#000"/>
<circle cx="246.77" cy="170.34" r="1.4" fill="#000"/>
<circle cx="247.80" cy="169.95" r="1.4" fill="#000"/>
<circle cx="248.83" cy="170.72" r="1.4" fill="#000"/>
<circle cx="249.86" cy="170.34" r="1.4" fill="#000"/>
<circle cx="250.89" cy="168.40" r="1.4" fill="#000"/>
<circle cx="251.91" cy="170.88" r="1.4" fill="#000"/>
<circle cx="252.94" cy="170.88" r="1.4" fill="#000"/>
<circle cx="253.97" cy="170.88" r="1.4" fill="#000"/>
<circle cx="255.00" cy="170.88" r="1.4" fill="#000"/>
<circle cx="256.03" cy="170.88" r="1.4" fill="#000"/>
<circle cx="257.06" cy="170.88" r="1.4" fill="#000"/>
<circle cx="258.09" cy="170.88" r="1.4" fill="#000"/>
<circle cx="259.11" cy="170.88" r="1.4" fill="#000"/>
<circle cx="260.14" cy="170.88" r="1.4" fill="#000"/>
<circle cx="261.17" cy="170.88" r="1.4" fill="#000"/>
<circle cx="262.20" cy="170.88" r="1.4" fill="#000"/>
<line x1="307.5" y1="16.3" x2="307.5" y2="171.3" stroke="#7c7c7c" stroke-width="1"/>
<line x1="304.30" y1="171.30" x2="307.5" y2="171.30" stroke="#7c7c7c" stroke-width="0.9"/>
<text x="294.51" y="174.40" font-size="8.8" fill="#333">0</text>
<line x1="304.30" y1="145.47" x2="307.5" y2="145.47" stroke="#7c7c7c" stroke-width="0.9"/>
<text x="284.72" y="148.57" font-size="8.8" fill="#333">5</text><text x="289.61" y="148.57" font-size="8.8" fill="#333">0</text><text x="294.51" y="148.57" font-size="8.8" fill="#333">0</text>
<line x1="304.30" y1="119.63" x2="307.5" y2="119.63" stroke="#7c7c7c" stroke-width="0.9"/>
<path d="M763,0L583,0L583,1147C540,1106 483,1064 412,1023C341,982 277,951 223,931L223,1105C320,1150 405,1206 478,1270C551,1334 603,1390 630,1409L763,1409Z" transform="translate(279.82,122.73) scale(0.00430,-0.00430)" fill="#333" stroke="#2a2a2a" stroke-width="0.3" vector-effect="non-scaling-stroke"/><text x="284.72" y="122.73" font-size="8.8" fill="#333">0</text><text x="289.61" y="122.73" font-size="8.8" fill="#333">0</text><text x="294.51" y="122.73" font-size="8.8" fill="#333">0</text>
<line x1="304.30" y1="93.80" x2="307.5" y2="93.80" stroke="#7c7c7c" stroke-width="0.9"/>
<path d="M763,0L583,0L583,1147C540,1106 483,1064 412,1023C341,982 277,951 223,931L223,1105C320,1150 405,1206 478,1270C551,1334 603,1390 630,1409L763,1409Z" transform="translate(279.82,96.90) scale(0.00430,-0.00430)" fill="#333" stroke="#2a2a2a" stroke-width="0.3" vector-effect="non-scaling-stroke"/><text x="284.72" y="96.90" font-size="8.8" fill="#333">5</text><text x="289.61" y="96.90" font-size="8.8" fill="#333">0</text><text x="294.51" y="96.90" font-size="8.8" fill="#333">0</text>
<line x1="304.30" y1="67.97" x2="307.5" y2="67.97" stroke="#7c7c7c" stroke-width="0.9"/>
<text x="279.82" y="71.07" font-size="8.8" fill="#333">2</text><text x="284.72" y="71.07" font-size="8.8" fill="#333">0</text><text x="289.61" y="71.07" font-size="8.8" fill="#333">0</text><text x="294.51" y="71.07" font-size="8.8" fill="#333">0</text>
<line x1="304.30" y1="42.13" x2="307.5" y2="42.13" stroke="#7c7c7c" stroke-width="0.9"/>
<text x="279.82" y="45.23" font-size="8.8" fill="#333">2</text><text x="284.72" y="45.23" font-size="8.8" fill="#333">5</text><text x="289.61" y="45.23" font-size="8.8" fill="#333">0</text><text x="294.51" y="45.23" font-size="8.8" fill="#333">0</text>
<line x1="304.30" y1="16.30" x2="307.5" y2="16.30" stroke="#7c7c7c" stroke-width="0.9"/>
<text x="279.82" y="19.40" font-size="8.8" fill="#333">3</text><text x="284.72" y="19.40" font-size="8.8" fill="#333">0</text><text x="289.61" y="19.40" font-size="8.8" fill="#333">0</text><text x="294.51" y="19.40" font-size="8.8" fill="#333">0</text>
<line x1="307.5" y1="171.5" x2="538.2" y2="171.5" stroke="#7c7c7c" stroke-width="1"/>
<line x1="307.50" y1="171.3" x2="307.50" y2="173.50" stroke="#bbb" stroke-width="0.8"/>
<path d="M763,0L583,0L583,1147C540,1106 483,1064 412,1023C341,982 277,951 223,931L223,1105C320,1150 405,1206 478,1270C551,1334 603,1390 630,1409L763,1409Z" transform="translate(300.16,184.20) scale(0.00430,-0.00430)" fill="#333" stroke="#2a2a2a" stroke-width="0.3" vector-effect="non-scaling-stroke"/><path d="M763,0L583,0L583,1147C540,1106 483,1064 412,1023C341,982 277,951 223,931L223,1105C320,1150 405,1206 478,1270C551,1334 603,1390 630,1409L763,1409Z" transform="translate(305.05,184.20) scale(0.00430,-0.00430)" fill="#333" stroke="#2a2a2a" stroke-width="0.3" vector-effect="non-scaling-stroke"/><text x="309.95" y="184.20" font-size="8.8" fill="#333">8</text>
<line x1="335.36" y1="171.3" x2="335.36" y2="173.50" stroke="#bbb" stroke-width="0.8"/>
<path d="M763,0L583,0L583,1147C540,1106 483,1064 412,1023C341,982 277,951 223,931L223,1105C320,1150 405,1206 478,1270C551,1334 603,1390 630,1409L763,1409Z" transform="translate(328.02,184.20) scale(0.00430,-0.00430)" fill="#333" stroke="#2a2a2a" stroke-width="0.3" vector-effect="non-scaling-stroke"/><text x="332.92" y="184.20" font-size="8.8" fill="#333">4</text><text x="337.81" y="184.20" font-size="8.8" fill="#333">3</text>
<line x1="363.22" y1="171.3" x2="363.22" y2="173.50" stroke="#bbb" stroke-width="0.8"/>
<path d="M763,0L583,0L583,1147C540,1106 483,1064 412,1023C341,982 277,951 223,931L223,1105C320,1150 405,1206 478,1270C551,1334 603,1390 630,1409L763,1409Z" transform="translate(355.88,184.20) scale(0.00430,-0.00430)" fill="#333" stroke="#2a2a2a" stroke-width="0.3" vector-effect="non-scaling-stroke"/><text x="360.78" y="184.20" font-size="8.8" fill="#333">6</text><text x="365.67" y="184.20" font-size="8.8" fill="#333">8</text>
<line x1="391.09" y1="171.3" x2="391.09" y2="173.50" stroke="#bbb" stroke-width="0.8"/>
<path d="M763,0L583,0L583,1147C540,1106 483,1064 412,1023C341,982 277,951 223,931L223,1105C320,1150 405,1206 478,1270C551,1334 603,1390 630,1409L763,1409Z" transform="translate(383.75,184.20) scale(0.00430,-0.00430)" fill="#333" stroke="#2a2a2a" stroke-width="0.3" vector-effect="non-scaling-stroke"/><text x="388.64" y="184.20" font-size="8.8" fill="#333">9</text><text x="393.53" y="184.20" font-size="8.8" fill="#333">3</text>
<line x1="418.95" y1="171.3" x2="418.95" y2="173.50" stroke="#bbb" stroke-width="0.8"/>
<text x="411.61" y="184.20" font-size="8.8" fill="#333">2</text><path d="M763,0L583,0L583,1147C540,1106 483,1064 412,1023C341,982 277,951 223,931L223,1105C320,1150 405,1206 478,1270C551,1334 603,1390 630,1409L763,1409Z" transform="translate(416.50,184.20) scale(0.00430,-0.00430)" fill="#333" stroke="#2a2a2a" stroke-width="0.3" vector-effect="non-scaling-stroke"/><text x="421.40" y="184.20" font-size="8.8" fill="#333">8</text>
<line x1="446.81" y1="171.3" x2="446.81" y2="173.50" stroke="#bbb" stroke-width="0.8"/>
<text x="439.47" y="184.20" font-size="8.8" fill="#333">2</text><text x="444.36" y="184.20" font-size="8.8" fill="#333">4</text><text x="449.26" y="184.20" font-size="8.8" fill="#333">3</text>
<line x1="474.67" y1="171.3" x2="474.67" y2="173.50" stroke="#bbb" stroke-width="0.8"/>
<text x="467.33" y="184.20" font-size="8.8" fill="#333">2</text><text x="472.23" y="184.20" font-size="8.8" fill="#333">6</text><text x="477.12" y="184.20" font-size="8.8" fill="#333">8</text>
<line x1="502.54" y1="171.3" x2="502.54" y2="173.50" stroke="#bbb" stroke-width="0.8"/>
<text x="495.20" y="184.20" font-size="8.8" fill="#333">2</text><text x="500.09" y="184.20" font-size="8.8" fill="#333">9</text><text x="504.98" y="184.20" font-size="8.8" fill="#333">3</text>
<line x1="530.40" y1="171.3" x2="530.40" y2="173.50" stroke="#bbb" stroke-width="0.8"/>
<text x="523.06" y="184.20" font-size="8.8" fill="#333">3</text><path d="M763,0L583,0L583,1147C540,1106 483,1064 412,1023C341,982 277,951 223,931L223,1105C320,1150 405,1206 478,1270C551,1334 603,1390 630,1409L763,1409Z" transform="translate(527.95,184.20) scale(0.00430,-0.00430)" fill="#333" stroke="#2a2a2a" stroke-width="0.3" vector-effect="non-scaling-stroke"/><text x="532.85" y="184.20" font-size="8.8" fill="#333">8</text>
<text x="312.2" y="22.8" font-size="10.4" font-style="italic" fill="#222" style="stroke-width:0.12px" textLength="65.6" lengthAdjust="spacingAndGlyphs">Fagus crenata</text>
<path d="M307.5,170.8 308.6,171.0 309.7,170.5 310.8,170.9 312.0,170.3 313.1,170.8 314.2,170.0 315.3,170.5 316.4,169.8 317.5,168.2 318.6,166.1 319.8,162.6 320.9,145.7 322.0,134.1 323.1,128.2 324.2,154.1 325.3,163.6 326.4,144.6 327.6,125.2 328.7,109.8 329.8,124.6 330.9,135.8 332.0,144.6 333.1,133.0 334.2,109.3 335.4,88.8 336.5,114.5 337.6,93.8 338.7,71.9 339.8,91.9 340.9,114.1 342.0,60.9 343.2,77.2 344.3,115.1 345.4,73.0 346.5,117.2 347.6,100.3 348.7,93.8 349.9,109.3 351.0,73.0 352.1,145.7 353.2,83.1 354.3,146.7 355.4,130.0 356.5,120.4 357.7,104.1 358.8,93.0 359.9,104.5 361.0,130.0 362.1,148.8 363.2,63.5 364.3,71.9 365.5,58.2 366.6,83.1 367.7,109.8 368.8,88.8 369.9,138.3 371.0,119.6 372.1,71.9 373.3,41.7 374.4,149.9 375.5,119.6 376.6,96.1 377.7,125.6 378.8,132.0 379.9,89.8 381.1,114.1 382.2,134.1 383.3,141.4 384.4,117.2 385.5,79.7 386.6,140.3 387.7,157.3 388.9,121.4 390.0,114.5 391.1,93.8 392.2,97.2 393.3,114.1 394.4,157.3 395.5,161.1 396.7,87.7 397.8,122.5 398.9,119.3 400.0,69.8 401.1,84.6 402.2,128.8 403.3,102.0 404.5,73.4 405.6,72.5 406.7,124.6 407.8,155.8 408.9,46.6 410.0,73.1 411.1,50.2 412.3,59.2 413.4,82.4 414.5,135.1 415.6,85.6 416.7,56.1 417.8,35.0 418.9,39.2 420.1,41.3 421.2,75.1 422.3,140.3 423.4,93.8 424.5,58.2 425.6,78.9 426.8,86.3 427.9,167.8 429.0,124.8 430.1,93.8 431.2,57.8 432.3,79.3 433.4,130.9 434.6,93.8 435.7,41.3 436.8,43.4 437.9,107.7 439.0,97.2 440.1,86.7 441.2,150.6 442.4,89.8 443.5,166.1 444.6,74.0 445.7,136.2 446.8,60.9 447.9,79.7 449.0,89.4 450.2,71.9 451.3,103.5 452.4,153.1 453.5,60.7 454.6,44.5 455.7,45.5 456.8,41.7 458.0,61.4 459.1,84.6 460.2,115.1 461.3,150.6 462.4,61.4 463.5,36.7 464.6,68.3 465.8,141.4 466.9,119.6 468.0,99.3 469.1,63.9 470.2,103.5 471.3,161.0 472.4,124.8 473.6,89.8 474.7,80.9 475.8,71.9 476.9,83.5 478.0,43.4 479.1,81.8 480.2,130.0 481.4,114.1 482.5,68.3 483.6,111.9 484.7,155.8 485.8,118.2 486.9,111.9 488.0,140.3 489.2,161.0 490.3,82.4 491.4,65.6 492.5,129.9 493.6,150.6 494.7,71.9 495.8,155.8 497.0,130.9 498.1,138.3 499.2,145.5 500.3,150.6 501.4,147.8 502.5,161.0 503.7,90.9 504.8,124.6 505.9,117.2 507.0,148.8 508.1,140.3 509.2,125.6 510.3,135.1 511.5,119.3 512.6,161.0 513.7,140.3 514.8,109.8 515.9,124.8 517.0,123.5 518.1,119.6 519.3,107.7 520.4,98.2 521.5,88.8 522.6,114.1 523.7,141.4 524.8,145.5 525.9,142.5 527.1,155.2 528.2,138.3 529.3,155.8 530.4,158.4 531.5,161.0 532.6,163.6 533.7,164.6 534.9,165.7 536.0,167.0 537.1,168.2 538.2,169.2" fill="none" stroke="#b0b0b0" stroke-width="0.8"/>
<circle cx="307.50" cy="170.78" r="1.15" fill="#999"/>
<circle cx="308.61" cy="171.04" r="1.15" fill="#999"/>
<circle cx="309.73" cy="170.53" r="1.15" fill="#999"/>
<circle cx="310.84" cy="170.89" r="1.15" fill="#999"/>
<circle cx="311.96" cy="170.27" r="1.15" fill="#999"/>
<circle cx="313.07" cy="170.78" r="1.15" fill="#999"/>
<circle cx="314.19" cy="170.01" r="1.15" fill="#999"/>
<circle cx="315.30" cy="170.53" r="1.15" fill="#999"/>
<circle cx="316.42" cy="169.75" r="1.15" fill="#999"/>
<circle cx="317.53" cy="168.20" r="1.15" fill="#999"/>
<circle cx="318.64" cy="166.13" r="1.15" fill="#999"/>
<circle cx="319.76" cy="162.57" r="1.15" fill="#999"/>
<circle cx="320.87" cy="145.67" r="1.15" fill="#999"/>
<circle cx="321.99" cy="134.10" r="1.15" fill="#999"/>
<circle cx="323.10" cy="128.16" r="1.15" fill="#999"/>
<circle cx="324.22" cy="154.10" r="1.15" fill="#999"/>
<circle cx="325.33" cy="163.60" r="1.15" fill="#999"/>
<circle cx="326.45" cy="144.64" r="1.15" fill="#999"/>
<circle cx="327.56" cy="125.21" r="1.15" fill="#999"/>
<circle cx="328.68" cy="109.82" r="1.15" fill="#999"/>
<circle cx="329.79" cy="124.59" r="1.15" fill="#999"/>
<circle cx="330.90" cy="135.75" r="1.15" fill="#999"/>
<circle cx="332.02" cy="144.64" r="1.15" fill="#999"/>
<circle cx="333.13" cy="133.02" r="1.15" fill="#999"/>
<circle cx="334.25" cy="109.30" r="1.15" fill="#999"/>
<circle cx="335.36" cy="88.79" r="1.15" fill="#999"/>
<circle cx="336.48" cy="114.47" r="1.15" fill="#999"/>
<circle cx="337.59" cy="93.80" r="1.15" fill="#999"/>
<circle cx="338.71" cy="71.89" r="1.15" fill="#999"/>
<circle cx="339.82" cy="91.94" r="1.15" fill="#999"/>
<circle cx="340.93" cy="114.05" r="1.15" fill="#999"/>
<circle cx="342.05" cy="60.94" r="1.15" fill="#999"/>
<circle cx="343.16" cy="77.16" r="1.15" fill="#999"/>
<circle cx="344.28" cy="115.09" r="1.15" fill="#999"/>
<circle cx="345.39" cy="72.98" r="1.15" fill="#999"/>
<circle cx="346.51" cy="117.21" r="1.15" fill="#999"/>
<circle cx="347.62" cy="100.31" r="1.15" fill="#999"/>
<circle cx="348.74" cy="93.80" r="1.15" fill="#999"/>
<circle cx="349.85" cy="109.30" r="1.15" fill="#999"/>
<circle cx="350.97" cy="72.98" r="1.15" fill="#999"/>
<circle cx="352.08" cy="145.67" r="1.15" fill="#999"/>
<circle cx="353.19" cy="83.11" r="1.15" fill="#999"/>
<circle cx="354.31" cy="146.71" r="1.15" fill="#999"/>
<circle cx="355.42" cy="129.97" r="1.15" fill="#999"/>
<circle cx="356.54" cy="120.36" r="1.15" fill="#999"/>
<circle cx="357.65" cy="104.13" r="1.15" fill="#999"/>
<circle cx="358.77" cy="92.97" r="1.15" fill="#999"/>
<circle cx="359.88" cy="104.55" r="1.15" fill="#999"/>
<circle cx="361.00" cy="129.97" r="1.15" fill="#999"/>
<circle cx="362.11" cy="148.83" r="1.15" fill="#999"/>
<circle cx="363.22" cy="63.47" r="1.15" fill="#999"/>
<circle cx="364.34" cy="71.89" r="1.15" fill="#999"/>
<circle cx="365.45" cy="58.20" r="1.15" fill="#999"/>
<circle cx="366.57" cy="83.11" r="1.15" fill="#999"/>
<circle cx="367.68" cy="109.82" r="1.15" fill="#999"/>
<circle cx="368.80" cy="88.79" r="1.15" fill="#999"/>
<circle cx="369.91" cy="138.29" r="1.15" fill="#999"/>
<circle cx="371.03" cy="119.63" r="1.15" fill="#999"/>
<circle cx="372.14" cy="71.89" r="1.15" fill="#999"/>
<circle cx="373.26" cy="41.72" r="1.15" fill="#999"/>
<circle cx="374.37" cy="149.91" r="1.15" fill="#999"/>
<circle cx="375.48" cy="119.63" r="1.15" fill="#999"/>
<circle cx="376.60" cy="96.13" r="1.15" fill="#999"/>
<circle cx="377.71" cy="125.63" r="1.15" fill="#999"/>
<circle cx="378.83" cy="131.98" r="1.15" fill="#999"/>
<circle cx="379.94" cy="89.82" r="1.15" fill="#999"/>
<circle cx="381.06" cy="114.05" r="1.15" fill="#999"/>
<circle cx="382.17" cy="134.10" r="1.15" fill="#999"/>
<circle cx="383.29" cy="141.44" r="1.15" fill="#999"/>
<circle cx="384.40" cy="117.21" r="1.15" fill="#999"/>
<circle cx="385.51" cy="79.70" r="1.15" fill="#999"/>
<circle cx="386.63" cy="140.30" r="1.15" fill="#999"/>
<circle cx="387.74" cy="157.30" r="1.15" fill="#999"/>
<circle cx="388.86" cy="121.44" r="1.15" fill="#999"/>
<circle cx="389.97" cy="114.47" r="1.15" fill="#999"/>
<circle cx="391.09" cy="93.80" r="1.15" fill="#999"/>
<circle cx="392.20" cy="97.16" r="1.15" fill="#999"/>
<circle cx="393.32" cy="114.05" r="1.15" fill="#999"/>
<circle cx="394.43" cy="157.30" r="1.15" fill="#999"/>
<circle cx="395.54" cy="161.07" r="1.15" fill="#999"/>
<circle cx="396.66" cy="87.70" r="1.15" fill="#999"/>
<circle cx="397.77" cy="122.48" r="1.15" fill="#999"/>
<circle cx="398.89" cy="119.32" r="1.15" fill="#999"/>
<circle cx="400.00" cy="69.78" r="1.15" fill="#999"/>
<circle cx="401.12" cy="84.55" r="1.15" fill="#999"/>
<circle cx="402.23" cy="128.83" r="1.15" fill="#999"/>
<circle cx="403.35" cy="102.02" r="1.15" fill="#999"/>
<circle cx="404.46" cy="73.39" r="1.15" fill="#999"/>
<circle cx="405.58" cy="72.51" r="1.15" fill="#999"/>
<circle cx="406.69" cy="124.59" r="1.15" fill="#999"/>
<circle cx="407.80" cy="155.80" r="1.15" fill="#999"/>
<circle cx="408.92" cy="46.58" r="1.15" fill="#999"/>
<circle cx="410.03" cy="73.13" r="1.15" fill="#999"/>
<circle cx="411.15" cy="50.19" r="1.15" fill="#999"/>
<circle cx="412.26" cy="59.24" r="1.15" fill="#999"/>
<circle cx="413.38" cy="82.43" r="1.15" fill="#999"/>
<circle cx="414.49" cy="135.13" r="1.15" fill="#999"/>
<circle cx="415.61" cy="85.59" r="1.15" fill="#999"/>
<circle cx="416.72" cy="56.08" r="1.15" fill="#999"/>
<circle cx="417.83" cy="35.00" r="1.15" fill="#999"/>
<circle cx="418.95" cy="39.19" r="1.15" fill="#999"/>
<circle cx="420.06" cy="41.31" r="1.15" fill="#999"/>
<circle cx="421.18" cy="75.10" r="1.15" fill="#999"/>
<circle cx="422.29" cy="140.30" r="1.15" fill="#999"/>
<circle cx="423.41" cy="93.80" r="1.15" fill="#999"/>
<circle cx="424.52" cy="58.20" r="1.15" fill="#999"/>
<circle cx="425.64" cy="78.87" r="1.15" fill="#999"/>
<circle cx="426.75" cy="86.26" r="1.15" fill="#999"/>
<circle cx="427.87" cy="167.84" r="1.15" fill="#999"/>
<circle cx="428.98" cy="124.80" r="1.15" fill="#999"/>
<circle cx="430.09" cy="93.80" r="1.15" fill="#999"/>
<circle cx="431.21" cy="57.79" r="1.15" fill="#999"/>
<circle cx="432.32" cy="79.28" r="1.15" fill="#999"/>
<circle cx="433.44" cy="130.90" r="1.15" fill="#999"/>
<circle cx="434.55" cy="93.80" r="1.15" fill="#999"/>
<circle cx="435.67" cy="41.31" r="1.15" fill="#999"/>
<circle cx="436.78" cy="43.43" r="1.15" fill="#999"/>
<circle cx="437.90" cy="107.70" r="1.15" fill="#999"/>
<circle cx="439.01" cy="97.16" r="1.15" fill="#999"/>
<circle cx="440.12" cy="86.67" r="1.15" fill="#999"/>
<circle cx="441.24" cy="150.63" r="1.15" fill="#999"/>
<circle cx="442.35" cy="89.82" r="1.15" fill="#999"/>
<circle cx="443.47" cy="166.13" r="1.15" fill="#999"/>
<circle cx="444.58" cy="74.01" r="1.15" fill="#999"/>
<circle cx="445.70" cy="136.17" r="1.15" fill="#999"/>
<circle cx="446.81" cy="60.94" r="1.15" fill="#999"/>
<circle cx="447.93" cy="79.70" r="1.15" fill="#999"/>
<circle cx="449.04" cy="89.41" r="1.15" fill="#999"/>
<circle cx="450.16" cy="71.89" r="1.15" fill="#999"/>
<circle cx="451.27" cy="103.51" r="1.15" fill="#999"/>
<circle cx="452.38" cy="153.06" r="1.15" fill="#999"/>
<circle cx="453.50" cy="60.73" r="1.15" fill="#999"/>
<circle cx="454.61" cy="44.46" r="1.15" fill="#999"/>
<circle cx="455.73" cy="45.54" r="1.15" fill="#999"/>
<circle cx="456.84" cy="41.72" r="1.15" fill="#999"/>
<circle cx="457.96" cy="61.35" r="1.15" fill="#999"/>
<circle cx="459.07" cy="84.55" r="1.15" fill="#999"/>
<circle cx="460.19" cy="115.09" r="1.15" fill="#999"/>
<circle cx="461.30" cy="150.63" r="1.15" fill="#999"/>
<circle cx="462.41" cy="61.35" r="1.15" fill="#999"/>
<circle cx="463.53" cy="36.66" r="1.15" fill="#999"/>
<circle cx="464.64" cy="68.33" r="1.15" fill="#999"/>
<circle cx="465.76" cy="141.44" r="1.15" fill="#999"/>
<circle cx="466.87" cy="119.63" r="1.15" fill="#999"/>
<circle cx="467.99" cy="99.28" r="1.15" fill="#999"/>
<circle cx="469.10" cy="63.89" r="1.15" fill="#999"/>
<circle cx="470.22" cy="103.51" r="1.15" fill="#999"/>
<circle cx="471.33" cy="160.97" r="1.15" fill="#999"/>
<circle cx="472.44" cy="124.80" r="1.15" fill="#999"/>
<circle cx="473.56" cy="89.82" r="1.15" fill="#999"/>
<circle cx="474.67" cy="80.86" r="1.15" fill="#999"/>
<circle cx="475.79" cy="71.89" r="1.15" fill="#999"/>
<circle cx="476.90" cy="83.47" r="1.15" fill="#999"/>
<circle cx="478.02" cy="43.43" r="1.15" fill="#999"/>
<circle cx="479.13" cy="81.81" r="1.15" fill="#999"/>
<circle cx="480.25" cy="129.97" r="1.15" fill="#999"/>
<circle cx="481.36" cy="114.05" r="1.15" fill="#999"/>
<circle cx="482.48" cy="68.33" r="1.15" fill="#999"/>
<circle cx="483.59" cy="111.94" r="1.15" fill="#999"/>
<circle cx="484.70" cy="155.80" r="1.15" fill="#999"/>
<circle cx="485.82" cy="118.24" r="1.15" fill="#999"/>
<circle cx="486.93" cy="111.94" r="1.15" fill="#999"/>
<circle cx="488.05" cy="140.30" r="1.15" fill="#999"/>
<circle cx="489.16" cy="160.97" r="1.15" fill="#999"/>
<circle cx="490.28" cy="82.43" r="1.15" fill="#999"/>
<circle cx="491.39" cy="65.59" r="1.15" fill="#999"/>
<circle cx="492.51" cy="129.86" r="1.15" fill="#999"/>
<circle cx="493.62" cy="150.63" r="1.15" fill="#999"/>
<circle cx="494.73" cy="71.89" r="1.15" fill="#999"/>
<circle cx="495.85" cy="155.80" r="1.15" fill="#999"/>
<circle cx="496.96" cy="130.90" r="1.15" fill="#999"/>
<circle cx="498.08" cy="138.29" r="1.15" fill="#999"/>
<circle cx="499.19" cy="145.47" r="1.15" fill="#999"/>
<circle cx="500.31" cy="150.63" r="1.15" fill="#999"/>
<circle cx="501.42" cy="147.79" r="1.15" fill="#999"/>
<circle cx="502.54" cy="160.97" r="1.15" fill="#999"/>
<circle cx="503.65" cy="90.86" r="1.15" fill="#999"/>
<circle cx="504.77" cy="124.59" r="1.15" fill="#999"/>
<circle cx="505.88" cy="117.21" r="1.15" fill="#999"/>
<circle cx="506.99" cy="148.83" r="1.15" fill="#999"/>
<circle cx="508.11" cy="140.30" r="1.15" fill="#999"/>
<circle cx="509.22" cy="125.63" r="1.15" fill="#999"/>
<circle cx="510.34" cy="135.13" r="1.15" fill="#999"/>
<circle cx="511.45" cy="119.32" r="1.15" fill="#999"/>
<circle cx="512.57" cy="160.97" r="1.15" fill="#999"/>
<circle cx="513.68" cy="140.30" r="1.15" fill="#999"/>
<circle cx="514.80" cy="109.82" r="1.15" fill="#999"/>
<circle cx="515.91" cy="124.80" r="1.15" fill="#999"/>
<circle cx="517.02" cy="123.51" r="1.15" fill="#999"/>
<circle cx="518.14" cy="119.63" r="1.15" fill="#999"/>
<circle cx="519.25" cy="107.70" r="1.15" fill="#999"/>
<circle cx="520.37" cy="98.24" r="1.15" fill="#999"/>
<circle cx="521.48" cy="88.79" r="1.15" fill="#999"/>
<circle cx="522.60" cy="114.05" r="1.15" fill="#999"/>
<circle cx="523.71" cy="141.44" r="1.15" fill="#999"/>
<circle cx="524.83" cy="145.47" r="1.15" fill="#999"/>
<circle cx="525.94" cy="142.52" r="1.15" fill="#999"/>
<circle cx="527.06" cy="155.18" r="1.15" fill="#999"/>
<circle cx="528.17" cy="138.29" r="1.15" fill="#999"/>
<circle cx="529.28" cy="155.80" r="1.15" fill="#999"/>
<circle cx="530.40" cy="158.38" r="1.15" fill="#999"/>
<circle cx="531.51" cy="160.97" r="1.15" fill="#999"/>
<circle cx="532.63" cy="163.55" r="1.15" fill="#999"/>
<circle cx="533.74" cy="164.64" r="1.15" fill="#999"/>
<circle cx="534.86" cy="165.72" r="1.15" fill="#999"/>
<circle cx="535.97" cy="166.96" r="1.15" fill="#999"/>
<circle cx="537.09" cy="168.20" r="1.15" fill="#999"/>
<circle cx="538.20" cy="169.23" r="1.15" fill="#999"/>
<path d="M307.5,170.9 308.6,170.8 309.7,170.8 310.8,170.7 312.0,169.2 313.1,167.4 314.2,169.5 315.3,169.0 316.4,169.5 317.5,170.0 318.6,168.7 319.8,169.2 320.9,167.4 322.0,168.7 323.1,166.1 324.2,169.0 325.3,169.8 326.4,169.5 327.6,170.3 328.7,170.0 329.8,170.5 330.9,169.8 332.0,168.7 333.1,167.4 334.2,169.0 335.4,164.2 336.5,168.2 337.6,169.2 338.7,166.1 339.8,167.7 340.9,165.1 342.0,166.7 343.2,168.7 344.3,169.2 345.4,169.8 346.5,169.5 347.6,170.0 348.7,169.8 349.9,170.3 351.0,169.8 352.1,169.0 353.2,168.2 354.3,169.8 355.4,170.3 356.5,170.0 357.7,170.5 358.8,169.8 359.9,170.3 361.0,170.0 362.1,170.5 363.2,169.8 364.3,170.3 365.5,170.0 366.6,169.8 367.7,170.3 368.8,169.8 369.9,170.0 371.0,169.2 372.1,169.8 373.3,168.7 374.4,169.2 375.5,168.2 376.6,169.0 377.7,168.6 378.8,168.2 379.9,164.7 381.1,168.2 382.2,169.2 383.3,168.7 384.4,167.7 385.5,164.2 386.6,168.2 387.7,169.5 388.9,169.8 390.0,168.7 391.1,165.9 392.2,163.1 393.3,168.2 394.4,169.8 395.5,170.0 396.7,169.8 397.8,169.2 398.9,166.1 400.0,157.1 401.1,165.6 402.2,168.2 403.3,169.5 404.5,169.8 405.6,170.0 406.7,169.8 407.8,170.0 408.9,169.8 410.0,169.2 411.1,168.7 412.3,167.7 413.4,166.3 414.5,168.7 415.6,169.8 416.7,170.0 417.8,169.2 418.9,167.2 420.1,162.0 421.2,166.7 422.3,169.2 423.4,170.2 424.5,168.7 425.6,167.0 426.8,162.9 427.9,170.2 429.0,170.2 430.1,168.7 431.2,166.5 432.3,160.6 433.4,170.2 434.6,152.1 435.7,145.7 436.8,164.9 437.9,151.9 439.0,165.9 440.1,166.5 441.2,157.9 442.4,169.6 443.5,168.2 444.6,167.0 445.7,161.1 446.8,161.7 447.9,165.4 449.0,163.3 450.2,166.1 451.3,163.6 452.4,169.6 453.5,166.5 454.6,152.1 455.7,162.7 456.8,161.7 458.0,159.9 459.1,157.9 460.2,154.7 461.3,169.6 462.4,162.7 463.5,156.9 464.6,151.0 465.8,170.2 466.9,170.2 468.0,170.0 469.1,169.6 470.2,163.3 471.3,161.1 472.4,165.1 473.6,167.0 474.7,151.0 475.8,169.1 476.9,169.1 478.0,147.3 479.1,156.8 480.2,157.4 481.4,164.4 482.5,167.7 483.6,163.6 484.7,160.7 485.8,168.2 486.9,170.5 488.0,169.9 489.2,158.4 490.3,151.9 491.4,158.4 492.5,161.2 493.6,154.7 494.7,158.4 495.8,159.0 497.0,166.7 498.1,163.9 499.2,161.7 500.3,167.2 501.4,169.9 502.5,168.2 503.7,165.6 504.8,166.7 505.9,165.1 507.0,163.9 508.1,154.7 509.2,160.1 510.3,161.0 511.5,158.4 512.6,151.9 513.7,160.2 514.8,159.4 515.9,157.9 517.0,157.9 518.1,165.6 519.3,153.0 520.4,167.7 521.5,161.0 522.6,157.4 523.7,158.4 524.8,167.7 525.9,163.6 527.1,161.7 528.2,160.7 529.3,169.9 530.4,167.2 531.5,166.1 532.6,165.0 533.7,167.2 534.9,167.7 536.0,169.4 537.1,168.8 538.2,169.8" fill="none" stroke="#000" stroke-width="1.25" stroke-linejoin="round"/>
<circle cx="307.50" cy="170.89" r="1.4" fill="#000"/>
<circle cx="308.61" cy="170.84" r="1.4" fill="#000"/>
<circle cx="309.73" cy="170.78" r="1.4" fill="#000"/>
<circle cx="310.84" cy="170.68" r="1.4" fill="#000"/>
<circle cx="311.96" cy="169.23" r="1.4" fill="#000"/>
<circle cx="313.07" cy="167.43" r="1.4" fill="#000"/>
<circle cx="314.19" cy="169.49" r="1.4" fill="#000"/>
<circle cx="315.30" cy="168.98" r="1.4" fill="#000"/>
<circle cx="316.42" cy="169.49" r="1.4" fill="#000"/>
<circle cx="317.53" cy="170.01" r="1.4" fill="#000"/>
<circle cx="318.64" cy="168.72" r="1.4" fill="#000"/>
<circle cx="319.76" cy="169.23" r="1.4" fill="#000"/>
<circle cx="320.87" cy="167.43" r="1.4" fill="#000"/>
<circle cx="321.99" cy="168.72" r="1.4" fill="#000"/>
<circle cx="323.10" cy="166.13" r="1.4" fill="#000"/>
<circle cx="324.22" cy="168.98" r="1.4" fill="#000"/>
<circle cx="325.33" cy="169.75" r="1.4" fill="#000"/>
<circle cx="326.45" cy="169.49" r="1.4" fill="#000"/>
<circle cx="327.56" cy="170.27" r="1.4" fill="#000"/>
<circle cx="328.68" cy="170.01" r="1.4" fill="#000"/>
<circle cx="329.79" cy="170.53" r="1.4" fill="#000"/>
<circle cx="330.90" cy="169.75" r="1.4" fill="#000"/>
<circle cx="332.02" cy="168.72" r="1.4" fill="#000"/>
<circle cx="333.13" cy="167.43" r="1.4" fill="#000"/>
<circle cx="334.25" cy="168.98" r="1.4" fill="#000"/>
<circle cx="335.36" cy="164.22" r="1.4" fill="#000"/>
<circle cx="336.48" cy="168.20" r="1.4" fill="#000"/>
<circle cx="337.59" cy="169.23" r="1.4" fill="#000"/>
<circle cx="338.71" cy="166.13" r="1.4" fill="#000"/>
<circle cx="339.82" cy="167.68" r="1.4" fill="#000"/>
<circle cx="340.93" cy="165.10" r="1.4" fill="#000"/>
<circle cx="342.05" cy="166.65" r="1.4" fill="#000"/>
<circle cx="343.16" cy="168.72" r="1.4" fill="#000"/>
<circle cx="344.28" cy="169.23" r="1.4" fill="#000"/>
<circle cx="345.39" cy="169.75" r="1.4" fill="#000"/>
<circle cx="346.51" cy="169.49" r="1.4" fill="#000"/>
<circle cx="347.62" cy="170.01" r="1.4" fill="#000"/>
<circle cx="348.74" cy="169.75" r="1.4" fill="#000"/>
<circle cx="349.85" cy="170.27" r="1.4" fill="#000"/>
<circle cx="350.97" cy="169.75" r="1.4" fill="#000"/>
<circle cx="352.08" cy="168.98" r="1.4" fill="#000"/>
<circle cx="353.19" cy="168.20" r="1.4" fill="#000"/>
<circle cx="354.31" cy="169.75" r="1.4" fill="#000"/>
<circle cx="355.42" cy="170.27" r="1.4" fill="#000"/>
<circle cx="356.54" cy="170.01" r="1.4" fill="#000"/>
<circle cx="357.65" cy="170.53" r="1.4" fill="#000"/>
<circle cx="358.77" cy="169.75" r="1.4" fill="#000"/>
<circle cx="359.88" cy="170.27" r="1.4" fill="#000"/>
<circle cx="361.00" cy="170.01" r="1.4" fill="#000"/>
<circle cx="362.11" cy="170.53" r="1.4" fill="#000"/>
<circle cx="363.22" cy="169.75" r="1.4" fill="#000"/>
<circle cx="364.34" cy="170.27" r="1.4" fill="#000"/>
<circle cx="365.45" cy="170.01" r="1.4" fill="#000"/>
<circle cx="366.57" cy="169.75" r="1.4" fill="#000"/>
<circle cx="367.68" cy="170.27" r="1.4" fill="#000"/>
<circle cx="368.80" cy="169.75" r="1.4" fill="#000"/>
<circle cx="369.91" cy="170.01" r="1.4" fill="#000"/>
<circle cx="371.03" cy="169.23" r="1.4" fill="#000"/>
<circle cx="372.14" cy="169.75" r="1.4" fill="#000"/>
<circle cx="373.26" cy="168.72" r="1.4" fill="#000"/>
<circle cx="374.37" cy="169.23" r="1.4" fill="#000"/>
<circle cx="375.48" cy="168.20" r="1.4" fill="#000"/>
<circle cx="376.60" cy="168.98" r="1.4" fill="#000"/>
<circle cx="377.71" cy="168.59" r="1.4" fill="#000"/>
<circle cx="378.83" cy="168.20" r="1.4" fill="#000"/>
<circle cx="379.94" cy="164.69" r="1.4" fill="#000"/>
<circle cx="381.06" cy="168.20" r="1.4" fill="#000"/>
<circle cx="382.17" cy="169.23" r="1.4" fill="#000"/>
<circle cx="383.29" cy="168.72" r="1.4" fill="#000"/>
<circle cx="384.40" cy="167.68" r="1.4" fill="#000"/>
<circle cx="385.51" cy="164.22" r="1.4" fill="#000"/>
<circle cx="386.63" cy="168.20" r="1.4" fill="#000"/>
<circle cx="387.74" cy="169.49" r="1.4" fill="#000"/>
<circle cx="388.86" cy="169.75" r="1.4" fill="#000"/>
<circle cx="389.97" cy="168.72" r="1.4" fill="#000"/>
<circle cx="391.09" cy="165.90" r="1.4" fill="#000"/>
<circle cx="392.20" cy="163.09" r="1.4" fill="#000"/>
<circle cx="393.32" cy="168.20" r="1.4" fill="#000"/>
<circle cx="394.43" cy="169.75" r="1.4" fill="#000"/>
<circle cx="395.54" cy="170.01" r="1.4" fill="#000"/>
<circle cx="396.66" cy="169.75" r="1.4" fill="#000"/>
<circle cx="397.77" cy="169.23" r="1.4" fill="#000"/>
<circle cx="398.89" cy="166.13" r="1.4" fill="#000"/>
<circle cx="400.00" cy="157.09" r="1.4" fill="#000"/>
<circle cx="401.12" cy="165.62" r="1.4" fill="#000"/>
<circle cx="402.23" cy="168.20" r="1.4" fill="#000"/>
<circle cx="403.35" cy="169.49" r="1.4" fill="#000"/>
<circle cx="404.46" cy="169.75" r="1.4" fill="#000"/>
<circle cx="405.58" cy="170.01" r="1.4" fill="#000"/>
<circle cx="406.69" cy="169.75" r="1.4" fill="#000"/>
<circle cx="407.80" cy="170.01" r="1.4" fill="#000"/>
<circle cx="408.92" cy="169.75" r="1.4" fill="#000"/>
<circle cx="410.03" cy="169.23" r="1.4" fill="#000"/>
<circle cx="411.15" cy="168.72" r="1.4" fill="#000"/>
<circle cx="412.26" cy="167.68" r="1.4" fill="#000"/>
<circle cx="413.38" cy="166.34" r="1.4" fill="#000"/>
<circle cx="414.49" cy="168.72" r="1.4" fill="#000"/>
<circle cx="415.61" cy="169.75" r="1.4" fill="#000"/>
<circle cx="416.72" cy="170.01" r="1.4" fill="#000"/>
<circle cx="417.83" cy="169.23" r="1.4" fill="#000"/>
<circle cx="418.95" cy="167.17" r="1.4" fill="#000"/>
<circle cx="420.06" cy="162.00" r="1.4" fill="#000"/>
<circle cx="421.18" cy="166.65" r="1.4" fill="#000"/>
<circle cx="422.29" cy="169.23" r="1.4" fill="#000"/>
<circle cx="423.41" cy="170.22" r="1.4" fill="#000"/>
<circle cx="424.52" cy="168.72" r="1.4" fill="#000"/>
<circle cx="425.64" cy="167.01" r="1.4" fill="#000"/>
<circle cx="426.75" cy="162.93" r="1.4" fill="#000"/>
<circle cx="427.87" cy="170.22" r="1.4" fill="#000"/>
<circle cx="428.98" cy="170.22" r="1.4" fill="#000"/>
<circle cx="430.09" cy="168.72" r="1.4" fill="#000"/>
<circle cx="431.21" cy="166.50" r="1.4" fill="#000"/>
<circle cx="432.32" cy="160.61" r="1.4" fill="#000"/>
<circle cx="433.44" cy="170.22" r="1.4" fill="#000"/>
<circle cx="434.55" cy="152.08" r="1.4" fill="#000"/>
<circle cx="435.67" cy="145.67" r="1.4" fill="#000"/>
<circle cx="436.78" cy="164.89" r="1.4" fill="#000"/>
<circle cx="437.90" cy="151.87" r="1.4" fill="#000"/>
<circle cx="439.01" cy="165.93" r="1.4" fill="#000"/>
<circle cx="440.12" cy="166.50" r="1.4" fill="#000"/>
<circle cx="441.24" cy="157.92" r="1.4" fill="#000"/>
<circle cx="442.35" cy="169.65" r="1.4" fill="#000"/>
<circle cx="443.47" cy="168.20" r="1.4" fill="#000"/>
<circle cx="444.58" cy="167.01" r="1.4" fill="#000"/>
<circle cx="445.70" cy="161.12" r="1.4" fill="#000"/>
<circle cx="446.81" cy="161.69" r="1.4" fill="#000"/>
<circle cx="447.93" cy="165.41" r="1.4" fill="#000"/>
<circle cx="449.04" cy="163.29" r="1.4" fill="#000"/>
<circle cx="450.16" cy="166.13" r="1.4" fill="#000"/>
<circle cx="451.27" cy="163.60" r="1.4" fill="#000"/>
<circle cx="452.38" cy="169.65" r="1.4" fill="#000"/>
<circle cx="453.50" cy="166.50" r="1.4" fill="#000"/>
<circle cx="454.61" cy="152.08" r="1.4" fill="#000"/>
<circle cx="455.73" cy="162.72" r="1.4" fill="#000"/>
<circle cx="456.84" cy="161.69" r="1.4" fill="#000"/>
<circle cx="457.96" cy="159.93" r="1.4" fill="#000"/>
<circle cx="459.07" cy="157.92" r="1.4" fill="#000"/>
<circle cx="460.19" cy="154.72" r="1.4" fill="#000"/>
<circle cx="461.30" cy="169.65" r="1.4" fill="#000"/>
<circle cx="462.41" cy="162.72" r="1.4" fill="#000"/>
<circle cx="463.53" cy="156.89" r="1.4" fill="#000"/>
<circle cx="464.64" cy="151.00" r="1.4" fill="#000"/>
<circle cx="465.76" cy="170.22" r="1.4" fill="#000"/>
<circle cx="466.87" cy="170.22" r="1.4" fill="#000"/>
<circle cx="467.99" cy="170.01" r="1.4" fill="#000"/>
<circle cx="469.10" cy="169.65" r="1.4" fill="#000"/>
<circle cx="470.22" cy="163.29" r="1.4" fill="#000"/>
<circle cx="471.33" cy="161.12" r="1.4" fill="#000"/>
<circle cx="472.44" cy="165.10" r="1.4" fill="#000"/>
<circle cx="473.56" cy="167.01" r="1.4" fill="#000"/>
<circle cx="474.67" cy="151.00" r="1.4" fill="#000"/>
<circle cx="475.79" cy="169.13" r="1.4" fill="#000"/>
<circle cx="476.90" cy="169.13" r="1.4" fill="#000"/>
<circle cx="478.02" cy="147.28" r="1.4" fill="#000"/>
<circle cx="479.13" cy="156.83" r="1.4" fill="#000"/>
<circle cx="480.25" cy="157.40" r="1.4" fill="#000"/>
<circle cx="481.36" cy="164.43" r="1.4" fill="#000"/>
<circle cx="482.48" cy="167.74" r="1.4" fill="#000"/>
<circle cx="483.59" cy="163.55" r="1.4" fill="#000"/>
<circle cx="484.70" cy="160.66" r="1.4" fill="#000"/>
<circle cx="485.82" cy="168.20" r="1.4" fill="#000"/>
<circle cx="486.93" cy="170.47" r="1.4" fill="#000"/>
<circle cx="488.05" cy="169.91" r="1.4" fill="#000"/>
<circle cx="489.16" cy="158.44" r="1.4" fill="#000"/>
<circle cx="490.28" cy="151.93" r="1.4" fill="#000"/>
<circle cx="491.39" cy="158.38" r="1.4" fill="#000"/>
<circle cx="492.51" cy="161.17" r="1.4" fill="#000"/>
<circle cx="493.62" cy="154.66" r="1.4" fill="#000"/>
<circle cx="494.73" cy="158.38" r="1.4" fill="#000"/>
<circle cx="495.85" cy="159.00" r="1.4" fill="#000"/>
<circle cx="496.96" cy="166.65" r="1.4" fill="#000"/>
<circle cx="498.08" cy="163.91" r="1.4" fill="#000"/>
<circle cx="499.19" cy="161.74" r="1.4" fill="#000"/>
<circle cx="500.31" cy="167.17" r="1.4" fill="#000"/>
<circle cx="501.42" cy="169.91" r="1.4" fill="#000"/>
<circle cx="502.54" cy="168.20" r="1.4" fill="#000"/>
<circle cx="503.65" cy="165.56" r="1.4" fill="#000"/>
<circle cx="504.77" cy="166.65" r="1.4" fill="#000"/>
<circle cx="505.88" cy="165.10" r="1.4" fill="#000"/>
<circle cx="506.99" cy="163.91" r="1.4" fill="#000"/>
<circle cx="508.11" cy="154.66" r="1.4" fill="#000"/>
<circle cx="509.22" cy="160.09" r="1.4" fill="#000"/>
<circle cx="510.34" cy="160.97" r="1.4" fill="#000"/>
<circle cx="511.45" cy="158.38" r="1.4" fill="#000"/>
<circle cx="512.57" cy="151.93" r="1.4" fill="#000"/>
<circle cx="513.68" cy="160.19" r="1.4" fill="#000"/>
<circle cx="514.80" cy="159.42" r="1.4" fill="#000"/>
<circle cx="515.91" cy="157.92" r="1.4" fill="#000"/>
<circle cx="517.02" cy="157.92" r="1.4" fill="#000"/>
<circle cx="518.14" cy="165.56" r="1.4" fill="#000"/>
<circle cx="519.25" cy="153.01" r="1.4" fill="#000"/>
<circle cx="520.37" cy="167.74" r="1.4" fill="#000"/>
<circle cx="521.48" cy="160.97" r="1.4" fill="#000"/>
<circle cx="522.60" cy="157.35" r="1.4" fill="#000"/>
<circle cx="523.71" cy="158.44" r="1.4" fill="#000"/>
<circle cx="524.83" cy="167.74" r="1.4" fill="#000"/>
<circle cx="525.94" cy="163.55" r="1.4" fill="#000"/>
<circle cx="527.06" cy="161.74" r="1.4" fill="#000"/>
<circle cx="528.17" cy="160.66" r="1.4" fill="#000"/>
<circle cx="529.28" cy="169.91" r="1.4" fill="#000"/>
<circle cx="530.40" cy="167.17" r="1.4" fill="#000"/>
<circle cx="531.51" cy="166.13" r="1.4" fill="#000"/>
<circle cx="532.63" cy="165.00" r="1.4" fill="#000"/>
<circle cx="533.74" cy="167.17" r="1.4" fill="#000"/>
<circle cx="534.86" cy="167.74" r="1.4" fill="#000"/>
<circle cx="535.97" cy="169.39" r="1.4" fill="#000"/>
<circle cx="537.09" cy="168.82" r="1.4" fill="#000"/>
<circle cx="538.20" cy="169.75" r="1.4" fill="#000"/>
<line x1="49.5" y1="199.1" x2="49.5" y2="335.4" stroke="#7c7c7c" stroke-width="1"/>
<line x1="46.30" y1="335.40" x2="49.5" y2="335.40" stroke="#7c7c7c" stroke-width="0.9"/>
<text x="36.31" y="338.50" font-size="8.8" fill="#333">0</text>
<line x1="46.30" y1="308.14" x2="49.5" y2="308.14" stroke="#7c7c7c" stroke-width="0.9"/>
<text x="26.52" y="311.24" font-size="8.8" fill="#333">2</text><text x="31.41" y="311.24" font-size="8.8" fill="#333">0</text><text x="36.31" y="311.24" font-size="8.8" fill="#333">0</text>
<line x1="46.30" y1="280.88" x2="49.5" y2="280.88" stroke="#7c7c7c" stroke-width="0.9"/>
<text x="26.52" y="283.98" font-size="8.8" fill="#333">4</text><text x="31.41" y="283.98" font-size="8.8" fill="#333">0</text><text x="36.31" y="283.98" font-size="8.8" fill="#333">0</text>
<line x1="46.30" y1="253.62" x2="49.5" y2="253.62" stroke="#7c7c7c" stroke-width="0.9"/>
<text x="26.52" y="256.72" font-size="8.8" fill="#333">6</text><text x="31.41" y="256.72" font-size="8.8" fill="#333">0</text><text x="36.31" y="256.72" font-size="8.8" fill="#333">0</text>
<line x1="46.30" y1="226.36" x2="49.5" y2="226.36" stroke="#7c7c7c" stroke-width="0.9"/>
<text x="26.52" y="229.46" font-size="8.8" fill="#333">8</text><text x="31.41" y="229.46" font-size="8.8" fill="#333">0</text><text x="36.31" y="229.46" font-size="8.8" fill="#333">0</text>
<line x1="46.30" y1="199.10" x2="49.5" y2="199.10" stroke="#7c7c7c" stroke-width="0.9"/>
<path d="M763,0L583,0L583,1147C540,1106 483,1064 412,1023C341,982 277,951 223,931L223,1105C320,1150 405,1206 478,1270C551,1334 603,1390 630,1409L763,1409Z" transform="translate(21.62,202.20) scale(0.00430,-0.00430)" fill="#333" stroke="#2a2a2a" stroke-width="0.3" vector-effect="non-scaling-stroke"/><text x="26.52" y="202.20" font-size="8.8" fill="#333">0</text><text x="31.41" y="202.20" font-size="8.8" fill="#333">0</text><text x="36.31" y="202.20" font-size="8.8" fill="#333">0</text>
<line x1="49.5" y1="335.5" x2="262.2" y2="335.5" stroke="#7c7c7c" stroke-width="1"/>
<line x1="49.30" y1="335.4" x2="49.30" y2="337.60" stroke="#bbb" stroke-width="0.8"/>
<path d="M763,0L583,0L583,1147C540,1106 483,1064 412,1023C341,982 277,951 223,931L223,1105C320,1150 405,1206 478,1270C551,1334 603,1390 630,1409L763,1409Z" transform="translate(41.96,348.30) scale(0.00430,-0.00430)" fill="#333" stroke="#2a2a2a" stroke-width="0.3" vector-effect="non-scaling-stroke"/><path d="M763,0L583,0L583,1147C540,1106 483,1064 412,1023C341,982 277,951 223,931L223,1105C320,1150 405,1206 478,1270C551,1334 603,1390 630,1409L763,1409Z" transform="translate(46.85,348.30) scale(0.00430,-0.00430)" fill="#333" stroke="#2a2a2a" stroke-width="0.3" vector-effect="non-scaling-stroke"/><text x="51.75" y="348.30" font-size="8.8" fill="#333">8</text>
<line x1="75.01" y1="335.4" x2="75.01" y2="337.60" stroke="#bbb" stroke-width="0.8"/>
<path d="M763,0L583,0L583,1147C540,1106 483,1064 412,1023C341,982 277,951 223,931L223,1105C320,1150 405,1206 478,1270C551,1334 603,1390 630,1409L763,1409Z" transform="translate(67.67,348.30) scale(0.00430,-0.00430)" fill="#333" stroke="#2a2a2a" stroke-width="0.3" vector-effect="non-scaling-stroke"/><text x="72.57" y="348.30" font-size="8.8" fill="#333">4</text><text x="77.46" y="348.30" font-size="8.8" fill="#333">3</text>
<line x1="100.73" y1="335.4" x2="100.73" y2="337.60" stroke="#bbb" stroke-width="0.8"/>
<path d="M763,0L583,0L583,1147C540,1106 483,1064 412,1023C341,982 277,951 223,931L223,1105C320,1150 405,1206 478,1270C551,1334 603,1390 630,1409L763,1409Z" transform="translate(93.38,348.30) scale(0.00430,-0.00430)" fill="#333" stroke="#2a2a2a" stroke-width="0.3" vector-effect="non-scaling-stroke"/><text x="98.28" y="348.30" font-size="8.8" fill="#333">6</text><text x="103.17" y="348.30" font-size="8.8" fill="#333">8</text>
<line x1="126.44" y1="335.4" x2="126.44" y2="337.60" stroke="#bbb" stroke-width="0.8"/>
<path d="M763,0L583,0L583,1147C540,1106 483,1064 412,1023C341,982 277,951 223,931L223,1105C320,1150 405,1206 478,1270C551,1334 603,1390 630,1409L763,1409Z" transform="translate(119.10,348.30) scale(0.00430,-0.00430)" fill="#333" stroke="#2a2a2a" stroke-width="0.3" vector-effect="non-scaling-stroke"/><text x="123.99" y="348.30" font-size="8.8" fill="#333">9</text><text x="128.88" y="348.30" font-size="8.8" fill="#333">3</text>
<line x1="152.15" y1="335.4" x2="152.15" y2="337.60" stroke="#bbb" stroke-width="0.8"/>
<text x="144.81" y="348.30" font-size="8.8" fill="#333">2</text><path d="M763,0L583,0L583,1147C540,1106 483,1064 412,1023C341,982 277,951 223,931L223,1105C320,1150 405,1206 478,1270C551,1334 603,1390 630,1409L763,1409Z" transform="translate(149.70,348.30) scale(0.00430,-0.00430)" fill="#333" stroke="#2a2a2a" stroke-width="0.3" vector-effect="non-scaling-stroke"/><text x="154.60" y="348.30" font-size="8.8" fill="#333">8</text>
<line x1="177.86" y1="335.4" x2="177.86" y2="337.60" stroke="#bbb" stroke-width="0.8"/>
<text x="170.52" y="348.30" font-size="8.8" fill="#333">2</text><text x="175.42" y="348.30" font-size="8.8" fill="#333">4</text><text x="180.31" y="348.30" font-size="8.8" fill="#333">3</text>
<line x1="203.58" y1="335.4" x2="203.58" y2="337.60" stroke="#bbb" stroke-width="0.8"/>
<text x="196.23" y="348.30" font-size="8.8" fill="#333">2</text><text x="201.13" y="348.30" font-size="8.8" fill="#333">6</text><text x="206.02" y="348.30" font-size="8.8" fill="#333">8</text>
<line x1="229.29" y1="335.4" x2="229.29" y2="337.60" stroke="#bbb" stroke-width="0.8"/>
<text x="221.95" y="348.30" font-size="8.8" fill="#333">2</text><text x="226.84" y="348.30" font-size="8.8" fill="#333">9</text><text x="231.73" y="348.30" font-size="8.8" fill="#333">3</text>
<line x1="255.00" y1="335.4" x2="255.00" y2="337.60" stroke="#bbb" stroke-width="0.8"/>
<text x="247.66" y="348.30" font-size="8.8" fill="#333">3</text><path d="M763,0L583,0L583,1147C540,1106 483,1064 412,1023C341,982 277,951 223,931L223,1105C320,1150 405,1206 478,1270C551,1334 603,1390 630,1409L763,1409Z" transform="translate(252.55,348.30) scale(0.00430,-0.00430)" fill="#333" stroke="#2a2a2a" stroke-width="0.3" vector-effect="non-scaling-stroke"/><text x="257.45" y="348.30" font-size="8.8" fill="#333">8</text>
<text x="53.6" y="205.5" font-size="10.4" font-style="italic" fill="#222" style="stroke-width:0.12px" textLength="91.5" lengthAdjust="spacingAndGlyphs">Fraxinus lanuginosa</text>
<path d="M49.3,335.4 50.3,335.3 51.4,335.3 52.4,335.2 53.4,335.1 54.4,335.1 55.5,335.0 56.5,334.9 57.5,334.9 58.6,334.8 59.6,334.7 60.6,334.6 61.6,334.3 62.7,334.0 63.7,333.6 64.7,333.1 65.8,332.7 66.8,332.4 67.8,332.2 68.8,332.0 69.9,331.7 70.9,331.3 71.9,329.0 73.0,312.0 74.0,301.1 75.0,282.9 76.0,274.1 77.1,278.2 78.1,275.0 79.1,272.0 80.2,295.1 81.2,216.0 82.2,249.9 83.2,269.0 84.3,239.0 85.3,278.0M89.4,301.3 90.4,311.0 91.5,251.6 92.5,309.0 93.5,300.0 94.6,291.0 95.6,278.0 96.6,264.9 97.6,286.1 98.7,314.0 99.7,280.9 100.7,264.9 101.8,253.6 102.8,243.0 103.8,283.1 104.8,267.2 105.9,261.0 106.9,295.1 107.9,274.1 109.0,258.0 110.0,240.9 111.0,317.0 112.0,271.1 113.1,296.0 114.1,285.0 115.1,274.1 116.2,259.6 117.2,289.1 118.2,280.9 119.2,311.0 120.3,284.0 121.3,255.9 122.3,311.0 123.4,294.5 124.4,286.1 125.4,291.0 126.4,266.0 127.5,277.1 128.5,294.5 129.5,312.0 130.6,319.0 131.6,297.0 132.6,287.0 133.6,278.2 134.7,257.0 135.7,274.1 136.7,302.0 137.8,277.1 138.8,249.9 139.8,246.9 140.8,267.2 141.9,328.0 142.9,230.4 143.9,227.6 145.0,240.0 146.0,253.6 147.0,269.0 148.0,264.5 149.1,267.2 150.1,249.0 151.1,234.9 152.2,242.0 153.2,232.1 154.2,237.3 155.2,252.9 156.3,264.9 157.3,243.5 158.3,254.0 159.3,260.4 160.4,320.0 161.4,308.1 162.4,280.9 163.5,257.0 164.5,278.0 165.5,299.0 166.5,269.0 167.6,231.0 168.6,267.2 169.6,280.1 170.7,291.0 171.7,267.2 172.7,252.9 173.7,263.0 174.8,274.1 175.8,282.0 176.8,302.0 177.9,255.7 178.9,275.0 179.9,253.6 180.9,254.0 182.0,284.0 183.0,267.2 184.0,248.8 185.1,240.1 186.1,242.7 187.1,234.0 188.1,253.8 189.2,261.7 190.2,283.1 191.2,260.4 192.3,244.8 193.3,231.7 194.3,251.3 195.3,297.0 196.4,274.1 197.4,271.1 198.4,250.8 199.5,262.5 200.5,266.0 201.5,274.1 202.5,284.0 203.6,256.3 204.6,242.9 205.6,240.0 206.7,207.8 207.7,241.1 208.7,246.8 209.7,277.1 210.8,232.8 211.8,259.8 212.8,308.1 213.9,215.9 214.9,286.1 215.9,270.0 216.9,321.8 218.0,251.3 219.0,241.4 220.0,283.1 221.1,268.1 222.1,267.7 223.1,291.0 224.1,295.1 225.2,301.3 226.2,308.0 227.2,310.9 228.3,314.0 229.3,267.0 230.3,313.0 231.3,297.0 232.4,289.1 233.4,321.0M240.6,312.0 241.6,306.0 242.7,301.3 243.7,299.0 244.7,297.2 245.7,301.3 246.8,288.0 247.8,316.0 248.8,321.8 249.9,324.5 250.9,327.2 251.9,329.9 252.9,330.6 254.0,331.3 255.0,332.0 256.0,332.7 257.1,332.3 258.1,332.0 259.1,332.7 260.1,333.4 261.2,333.7 262.2,334.0" fill="none" stroke="#b0b0b0" stroke-width="0.8"/>
<circle cx="49.30" cy="335.40" r="1.15" fill="#999"/>
<circle cx="50.33" cy="335.33" r="1.15" fill="#999"/>
<circle cx="51.36" cy="335.26" r="1.15" fill="#999"/>
<circle cx="52.39" cy="335.20" r="1.15" fill="#999"/>
<circle cx="53.41" cy="335.13" r="1.15" fill="#999"/>
<circle cx="54.44" cy="335.06" r="1.15" fill="#999"/>
<circle cx="55.47" cy="334.99" r="1.15" fill="#999"/>
<circle cx="56.50" cy="334.92" r="1.15" fill="#999"/>
<circle cx="57.53" cy="334.85" r="1.15" fill="#999"/>
<circle cx="58.56" cy="334.76" r="1.15" fill="#999"/>
<circle cx="59.59" cy="334.67" r="1.15" fill="#999"/>
<circle cx="60.61" cy="334.58" r="1.15" fill="#999"/>
<circle cx="61.64" cy="334.31" r="1.15" fill="#999"/>
<circle cx="62.67" cy="334.04" r="1.15" fill="#999"/>
<circle cx="63.70" cy="333.58" r="1.15" fill="#999"/>
<circle cx="64.73" cy="333.13" r="1.15" fill="#999"/>
<circle cx="65.76" cy="332.67" r="1.15" fill="#999"/>
<circle cx="66.78" cy="332.45" r="1.15" fill="#999"/>
<circle cx="67.81" cy="332.22" r="1.15" fill="#999"/>
<circle cx="68.84" cy="331.99" r="1.15" fill="#999"/>
<circle cx="69.87" cy="331.65" r="1.15" fill="#999"/>
<circle cx="70.90" cy="331.31" r="1.15" fill="#999"/>
<circle cx="71.93" cy="328.99" r="1.15" fill="#999"/>
<circle cx="72.96" cy="311.96" r="1.15" fill="#999"/>
<circle cx="73.98" cy="301.05" r="1.15" fill="#999"/>
<circle cx="75.01" cy="282.92" r="1.15" fill="#999"/>
<circle cx="76.04" cy="274.06" r="1.15" fill="#999"/>
<circle cx="77.07" cy="278.15" r="1.15" fill="#999"/>
<circle cx="78.10" cy="275.02" r="1.15" fill="#999"/>
<circle cx="79.13" cy="272.02" r="1.15" fill="#999"/>
<circle cx="80.16" cy="295.06" r="1.15" fill="#999"/>
<circle cx="81.18" cy="216.00" r="1.15" fill="#999"/>
<circle cx="82.21" cy="249.94" r="1.15" fill="#999"/>
<circle cx="83.24" cy="269.02" r="1.15" fill="#999"/>
<circle cx="84.27" cy="239.04" r="1.15" fill="#999"/>
<circle cx="85.30" cy="278.02" r="1.15" fill="#999"/>
<circle cx="89.41" cy="301.32" r="1.15" fill="#999"/>
<circle cx="90.44" cy="311.00" r="1.15" fill="#999"/>
<circle cx="91.47" cy="251.58" r="1.15" fill="#999"/>
<circle cx="92.50" cy="308.96" r="1.15" fill="#999"/>
<circle cx="93.53" cy="299.96" r="1.15" fill="#999"/>
<circle cx="94.55" cy="290.97" r="1.15" fill="#999"/>
<circle cx="95.58" cy="278.02" r="1.15" fill="#999"/>
<circle cx="96.61" cy="264.93" r="1.15" fill="#999"/>
<circle cx="97.64" cy="286.06" r="1.15" fill="#999"/>
<circle cx="98.67" cy="314.00" r="1.15" fill="#999"/>
<circle cx="99.70" cy="280.88" r="1.15" fill="#999"/>
<circle cx="100.73" cy="264.93" r="1.15" fill="#999"/>
<circle cx="101.75" cy="253.62" r="1.15" fill="#999"/>
<circle cx="102.78" cy="242.99" r="1.15" fill="#999"/>
<circle cx="103.81" cy="283.06" r="1.15" fill="#999"/>
<circle cx="104.84" cy="267.25" r="1.15" fill="#999"/>
<circle cx="105.87" cy="260.98" r="1.15" fill="#999"/>
<circle cx="106.90" cy="295.06" r="1.15" fill="#999"/>
<circle cx="107.92" cy="274.06" r="1.15" fill="#999"/>
<circle cx="108.95" cy="257.98" r="1.15" fill="#999"/>
<circle cx="109.98" cy="240.94" r="1.15" fill="#999"/>
<circle cx="111.01" cy="317.00" r="1.15" fill="#999"/>
<circle cx="112.04" cy="271.07" r="1.15" fill="#999"/>
<circle cx="113.07" cy="296.01" r="1.15" fill="#999"/>
<circle cx="114.10" cy="285.04" r="1.15" fill="#999"/>
<circle cx="115.12" cy="274.06" r="1.15" fill="#999"/>
<circle cx="116.15" cy="259.62" r="1.15" fill="#999"/>
<circle cx="117.18" cy="289.06" r="1.15" fill="#999"/>
<circle cx="118.21" cy="280.88" r="1.15" fill="#999"/>
<circle cx="119.24" cy="311.00" r="1.15" fill="#999"/>
<circle cx="120.27" cy="284.01" r="1.15" fill="#999"/>
<circle cx="121.30" cy="255.94" r="1.15" fill="#999"/>
<circle cx="122.32" cy="311.00" r="1.15" fill="#999"/>
<circle cx="123.35" cy="294.51" r="1.15" fill="#999"/>
<circle cx="124.38" cy="286.06" r="1.15" fill="#999"/>
<circle cx="125.41" cy="290.97" r="1.15" fill="#999"/>
<circle cx="126.44" cy="266.02" r="1.15" fill="#999"/>
<circle cx="127.47" cy="277.06" r="1.15" fill="#999"/>
<circle cx="128.49" cy="294.51" r="1.15" fill="#999"/>
<circle cx="129.52" cy="311.96" r="1.15" fill="#999"/>
<circle cx="130.55" cy="319.04" r="1.15" fill="#999"/>
<circle cx="131.58" cy="296.96" r="1.15" fill="#999"/>
<circle cx="132.61" cy="287.01" r="1.15" fill="#999"/>
<circle cx="133.64" cy="278.15" r="1.15" fill="#999"/>
<circle cx="134.67" cy="257.03" r="1.15" fill="#999"/>
<circle cx="135.69" cy="274.06" r="1.15" fill="#999"/>
<circle cx="136.72" cy="302.01" r="1.15" fill="#999"/>
<circle cx="137.75" cy="277.06" r="1.15" fill="#999"/>
<circle cx="138.78" cy="249.94" r="1.15" fill="#999"/>
<circle cx="139.81" cy="246.94" r="1.15" fill="#999"/>
<circle cx="140.84" cy="267.25" r="1.15" fill="#999"/>
<circle cx="141.87" cy="328.04" r="1.15" fill="#999"/>
<circle cx="142.89" cy="230.45" r="1.15" fill="#999"/>
<circle cx="143.92" cy="227.59" r="1.15" fill="#999"/>
<circle cx="144.95" cy="239.99" r="1.15" fill="#999"/>
<circle cx="145.98" cy="253.62" r="1.15" fill="#999"/>
<circle cx="147.01" cy="269.02" r="1.15" fill="#999"/>
<circle cx="148.04" cy="264.52" r="1.15" fill="#999"/>
<circle cx="149.06" cy="267.25" r="1.15" fill="#999"/>
<circle cx="150.09" cy="248.99" r="1.15" fill="#999"/>
<circle cx="151.12" cy="234.95" r="1.15" fill="#999"/>
<circle cx="152.15" cy="242.03" r="1.15" fill="#999"/>
<circle cx="153.18" cy="232.08" r="1.15" fill="#999"/>
<circle cx="154.21" cy="237.26" r="1.15" fill="#999"/>
<circle cx="155.24" cy="252.94" r="1.15" fill="#999"/>
<circle cx="156.26" cy="264.93" r="1.15" fill="#999"/>
<circle cx="157.29" cy="243.53" r="1.15" fill="#999"/>
<circle cx="158.32" cy="254.03" r="1.15" fill="#999"/>
<circle cx="159.35" cy="260.44" r="1.15" fill="#999"/>
<circle cx="160.38" cy="320.00" r="1.15" fill="#999"/>
<circle cx="161.41" cy="308.14" r="1.15" fill="#999"/>
<circle cx="162.44" cy="280.88" r="1.15" fill="#999"/>
<circle cx="163.46" cy="257.03" r="1.15" fill="#999"/>
<circle cx="164.49" cy="278.02" r="1.15" fill="#999"/>
<circle cx="165.52" cy="299.01" r="1.15" fill="#999"/>
<circle cx="166.55" cy="269.02" r="1.15" fill="#999"/>
<circle cx="167.58" cy="230.99" r="1.15" fill="#999"/>
<circle cx="168.61" cy="267.25" r="1.15" fill="#999"/>
<circle cx="169.63" cy="280.06" r="1.15" fill="#999"/>
<circle cx="170.66" cy="290.97" r="1.15" fill="#999"/>
<circle cx="171.69" cy="267.25" r="1.15" fill="#999"/>
<circle cx="172.72" cy="252.94" r="1.15" fill="#999"/>
<circle cx="173.75" cy="263.02" r="1.15" fill="#999"/>
<circle cx="174.78" cy="274.06" r="1.15" fill="#999"/>
<circle cx="175.81" cy="281.97" r="1.15" fill="#999"/>
<circle cx="176.83" cy="302.01" r="1.15" fill="#999"/>
<circle cx="177.86" cy="255.66" r="1.15" fill="#999"/>
<circle cx="178.89" cy="275.02" r="1.15" fill="#999"/>
<circle cx="179.92" cy="253.62" r="1.15" fill="#999"/>
<circle cx="180.95" cy="254.03" r="1.15" fill="#999"/>
<circle cx="181.98" cy="284.01" r="1.15" fill="#999"/>
<circle cx="183.01" cy="267.25" r="1.15" fill="#999"/>
<circle cx="184.03" cy="248.85" r="1.15" fill="#999"/>
<circle cx="185.06" cy="240.13" r="1.15" fill="#999"/>
<circle cx="186.09" cy="242.72" r="1.15" fill="#999"/>
<circle cx="187.12" cy="233.99" r="1.15" fill="#999"/>
<circle cx="188.15" cy="253.76" r="1.15" fill="#999"/>
<circle cx="189.18" cy="261.66" r="1.15" fill="#999"/>
<circle cx="190.20" cy="283.06" r="1.15" fill="#999"/>
<circle cx="191.23" cy="260.44" r="1.15" fill="#999"/>
<circle cx="192.26" cy="244.76" r="1.15" fill="#999"/>
<circle cx="193.29" cy="231.68" r="1.15" fill="#999"/>
<circle cx="194.32" cy="251.30" r="1.15" fill="#999"/>
<circle cx="195.35" cy="296.96" r="1.15" fill="#999"/>
<circle cx="196.38" cy="274.06" r="1.15" fill="#999"/>
<circle cx="197.40" cy="271.07" r="1.15" fill="#999"/>
<circle cx="198.43" cy="250.76" r="1.15" fill="#999"/>
<circle cx="199.46" cy="262.48" r="1.15" fill="#999"/>
<circle cx="200.49" cy="266.02" r="1.15" fill="#999"/>
<circle cx="201.52" cy="274.06" r="1.15" fill="#999"/>
<circle cx="202.55" cy="284.01" r="1.15" fill="#999"/>
<circle cx="203.58" cy="256.35" r="1.15" fill="#999"/>
<circle cx="204.60" cy="242.85" r="1.15" fill="#999"/>
<circle cx="205.63" cy="239.99" r="1.15" fill="#999"/>
<circle cx="206.66" cy="207.82" r="1.15" fill="#999"/>
<circle cx="207.69" cy="241.08" r="1.15" fill="#999"/>
<circle cx="208.72" cy="246.81" r="1.15" fill="#999"/>
<circle cx="209.75" cy="277.06" r="1.15" fill="#999"/>
<circle cx="210.77" cy="232.77" r="1.15" fill="#999"/>
<circle cx="211.80" cy="259.75" r="1.15" fill="#999"/>
<circle cx="212.83" cy="308.14" r="1.15" fill="#999"/>
<circle cx="213.86" cy="215.86" r="1.15" fill="#999"/>
<circle cx="214.89" cy="286.06" r="1.15" fill="#999"/>
<circle cx="215.92" cy="269.98" r="1.15" fill="#999"/>
<circle cx="216.95" cy="321.77" r="1.15" fill="#999"/>
<circle cx="217.97" cy="251.30" r="1.15" fill="#999"/>
<circle cx="219.00" cy="241.35" r="1.15" fill="#999"/>
<circle cx="220.03" cy="283.06" r="1.15" fill="#999"/>
<circle cx="221.06" cy="268.07" r="1.15" fill="#999"/>
<circle cx="222.09" cy="267.66" r="1.15" fill="#999"/>
<circle cx="223.12" cy="290.97" r="1.15" fill="#999"/>
<circle cx="224.15" cy="295.06" r="1.15" fill="#999"/>
<circle cx="225.17" cy="301.32" r="1.15" fill="#999"/>
<circle cx="226.20" cy="308.00" r="1.15" fill="#999"/>
<circle cx="227.23" cy="310.87" r="1.15" fill="#999"/>
<circle cx="228.26" cy="314.00" r="1.15" fill="#999"/>
<circle cx="229.29" cy="266.98" r="1.15" fill="#999"/>
<circle cx="230.32" cy="313.05" r="1.15" fill="#999"/>
<circle cx="231.34" cy="296.96" r="1.15" fill="#999"/>
<circle cx="232.37" cy="289.06" r="1.15" fill="#999"/>
<circle cx="233.40" cy="320.95" r="1.15" fill="#999"/>
<circle cx="240.60" cy="311.96" r="1.15" fill="#999"/>
<circle cx="241.63" cy="305.96" r="1.15" fill="#999"/>
<circle cx="242.66" cy="301.32" r="1.15" fill="#999"/>
<circle cx="243.69" cy="299.01" r="1.15" fill="#999"/>
<circle cx="244.72" cy="297.24" r="1.15" fill="#999"/>
<circle cx="245.74" cy="301.32" r="1.15" fill="#999"/>
<circle cx="246.77" cy="287.97" r="1.15" fill="#999"/>
<circle cx="247.80" cy="316.05" r="1.15" fill="#999"/>
<circle cx="248.83" cy="321.77" r="1.15" fill="#999"/>
<circle cx="249.86" cy="324.50" r="1.15" fill="#999"/>
<circle cx="250.89" cy="327.22" r="1.15" fill="#999"/>
<circle cx="251.91" cy="329.95" r="1.15" fill="#999"/>
<circle cx="252.94" cy="330.63" r="1.15" fill="#999"/>
<circle cx="253.97" cy="331.31" r="1.15" fill="#999"/>
<circle cx="255.00" cy="331.99" r="1.15" fill="#999"/>
<circle cx="256.03" cy="332.67" r="1.15" fill="#999"/>
<circle cx="257.06" cy="332.33" r="1.15" fill="#999"/>
<circle cx="258.09" cy="331.99" r="1.15" fill="#999"/>
<circle cx="259.11" cy="332.67" r="1.15" fill="#999"/>
<circle cx="260.14" cy="333.36" r="1.15" fill="#999"/>
<circle cx="261.17" cy="333.70" r="1.15" fill="#999"/>
<circle cx="262.20" cy="334.04" r="1.15" fill="#999"/>
<path d="M49.3,335.4 50.3,335.4 51.4,335.4 52.4,335.4 53.4,335.4 54.4,335.4 55.5,335.4 56.5,335.4 57.5,335.3 58.6,335.3 59.6,335.2 60.6,335.1 61.6,334.7 62.7,334.3 63.7,333.8 64.7,333.4 65.8,333.7 66.8,334.0 67.8,333.4 68.8,332.7 69.9,333.0 70.9,333.4 71.9,331.3 73.0,332.7 74.0,329.9 75.0,332.0 76.0,328.6 77.1,331.3 78.1,329.9 79.1,325.9 80.2,327.2 81.2,321.0 82.2,329.3 83.2,332.3 84.3,333.4 85.3,334.4M89.4,333.4 90.4,331.8 91.5,333.4 92.5,334.4 93.5,332.8 94.6,333.9 95.6,333.4 96.6,331.8 97.6,333.4 98.7,332.3 99.7,332.8 100.7,333.9 101.8,331.8 102.8,330.8 103.8,333.4 104.8,332.3 105.9,333.9 106.9,332.8 107.9,331.8 109.0,333.4 110.0,332.3 111.0,331.3 112.0,332.8 113.1,331.8 114.1,329.3 115.1,322.0 116.2,330.8 117.2,332.3 118.2,330.3 119.2,331.3 120.3,329.3 121.3,324.0 122.3,331.3 123.4,332.8 124.4,331.3 125.4,332.3 126.4,329.3 127.5,324.0 128.5,331.3 129.5,332.8 130.6,331.8 131.6,333.4 132.6,331.3 133.6,329.3 134.7,321.0 135.7,330.3 136.7,332.3 137.8,333.4 138.8,331.8 139.8,332.8 140.8,333.4 141.9,331.8 142.9,333.9 143.9,332.8 145.0,332.3 146.0,333.4 147.0,331.8 148.0,332.8 149.1,331.3 150.1,332.3 151.1,330.3 152.2,328.2 153.2,323.0 154.2,331.3 155.2,333.4 156.3,331.8 157.3,330.3 158.3,328.2 159.3,323.0 160.4,331.3 161.4,332.3 162.4,330.3 163.5,328.2 164.5,323.0 165.5,329.3 166.5,319.0 167.6,321.8 168.6,316.0 169.6,331.3 170.7,324.5 171.7,315.0 172.7,329.3 173.7,333.4 174.8,329.9 175.8,327.2 176.8,328.6 177.9,325.9 178.9,329.9 179.9,332.7 180.9,331.0 182.0,334.0 183.0,327.2 184.0,324.5 185.1,319.0 186.1,329.9 187.1,323.1 188.1,320.4 189.2,315.0 190.2,327.2 191.2,335.0 192.3,324.5 193.3,319.0 194.3,313.0 195.3,329.9 196.4,334.7 197.4,329.9 198.4,323.1 199.5,317.0 200.5,324.5 201.5,331.3 202.5,312.0 203.6,327.2 204.6,334.0 205.6,315.0 206.7,301.1 207.7,321.8 208.7,329.9 209.7,334.0 210.8,334.7 211.8,321.8 212.8,310.9 213.9,300.6 214.9,334.7 215.9,321.8 216.9,315.0 218.0,311.0 219.0,319.0 220.0,332.7 221.1,317.0 222.1,317.7 223.1,317.4 224.1,334.7 225.2,331.3 226.2,326.0 227.2,331.3 228.3,332.7 229.3,333.4 230.3,331.3 231.3,329.9 232.4,325.9 233.4,324.4M240.6,329.9 241.6,331.3 242.7,327.2 243.7,325.0 244.7,321.0 245.7,327.2 246.8,331.3 247.8,332.7 248.8,333.4 249.9,332.0 250.9,334.0 251.9,333.4 252.9,334.3 254.0,333.8 255.0,334.2 256.0,334.7 257.1,334.4 258.1,334.0 259.1,334.4 260.1,334.7 261.2,334.9 262.2,335.0" fill="none" stroke="#000" stroke-width="1.25" stroke-linejoin="round"/>
<circle cx="49.30" cy="335.40" r="1.4" fill="#000"/>
<circle cx="50.33" cy="335.40" r="1.4" fill="#000"/>
<circle cx="51.36" cy="335.40" r="1.4" fill="#000"/>
<circle cx="52.39" cy="335.40" r="1.4" fill="#000"/>
<circle cx="53.41" cy="335.40" r="1.4" fill="#000"/>
<circle cx="54.44" cy="335.40" r="1.4" fill="#000"/>
<circle cx="55.47" cy="335.40" r="1.4" fill="#000"/>
<circle cx="56.50" cy="335.40" r="1.4" fill="#000"/>
<circle cx="57.53" cy="335.33" r="1.4" fill="#000"/>
<circle cx="58.56" cy="335.26" r="1.4" fill="#000"/>
<circle cx="59.59" cy="335.20" r="1.4" fill="#000"/>
<circle cx="60.61" cy="335.13" r="1.4" fill="#000"/>
<circle cx="61.64" cy="334.72" r="1.4" fill="#000"/>
<circle cx="62.67" cy="334.31" r="1.4" fill="#000"/>
<circle cx="63.70" cy="333.83" r="1.4" fill="#000"/>
<circle cx="64.73" cy="333.36" r="1.4" fill="#000"/>
<circle cx="65.76" cy="333.70" r="1.4" fill="#000"/>
<circle cx="66.78" cy="334.04" r="1.4" fill="#000"/>
<circle cx="67.81" cy="333.36" r="1.4" fill="#000"/>
<circle cx="68.84" cy="332.67" r="1.4" fill="#000"/>
<circle cx="69.87" cy="333.01" r="1.4" fill="#000"/>
<circle cx="70.90" cy="333.36" r="1.4" fill="#000"/>
<circle cx="71.93" cy="331.31" r="1.4" fill="#000"/>
<circle cx="72.96" cy="332.67" r="1.4" fill="#000"/>
<circle cx="73.98" cy="329.95" r="1.4" fill="#000"/>
<circle cx="75.01" cy="331.99" r="1.4" fill="#000"/>
<circle cx="76.04" cy="328.58" r="1.4" fill="#000"/>
<circle cx="77.07" cy="331.31" r="1.4" fill="#000"/>
<circle cx="78.10" cy="329.95" r="1.4" fill="#000"/>
<circle cx="79.13" cy="325.86" r="1.4" fill="#000"/>
<circle cx="80.16" cy="327.22" r="1.4" fill="#000"/>
<circle cx="81.18" cy="320.95" r="1.4" fill="#000"/>
<circle cx="82.21" cy="329.27" r="1.4" fill="#000"/>
<circle cx="83.24" cy="332.33" r="1.4" fill="#000"/>
<circle cx="84.27" cy="333.36" r="1.4" fill="#000"/>
<circle cx="85.30" cy="334.38" r="1.4" fill="#000"/>
<circle cx="89.41" cy="333.36" r="1.4" fill="#000"/>
<circle cx="90.44" cy="331.82" r="1.4" fill="#000"/>
<circle cx="91.47" cy="333.36" r="1.4" fill="#000"/>
<circle cx="92.50" cy="334.38" r="1.4" fill="#000"/>
<circle cx="93.53" cy="332.84" r="1.4" fill="#000"/>
<circle cx="94.55" cy="333.87" r="1.4" fill="#000"/>
<circle cx="95.58" cy="333.36" r="1.4" fill="#000"/>
<circle cx="96.61" cy="331.82" r="1.4" fill="#000"/>
<circle cx="97.64" cy="333.36" r="1.4" fill="#000"/>
<circle cx="98.67" cy="332.33" r="1.4" fill="#000"/>
<circle cx="99.70" cy="332.84" r="1.4" fill="#000"/>
<circle cx="100.73" cy="333.87" r="1.4" fill="#000"/>
<circle cx="101.75" cy="331.82" r="1.4" fill="#000"/>
<circle cx="102.78" cy="330.80" r="1.4" fill="#000"/>
<circle cx="103.81" cy="333.36" r="1.4" fill="#000"/>
<circle cx="104.84" cy="332.33" r="1.4" fill="#000"/>
<circle cx="105.87" cy="333.87" r="1.4" fill="#000"/>
<circle cx="106.90" cy="332.84" r="1.4" fill="#000"/>
<circle cx="107.92" cy="331.82" r="1.4" fill="#000"/>
<circle cx="108.95" cy="333.36" r="1.4" fill="#000"/>
<circle cx="109.98" cy="332.33" r="1.4" fill="#000"/>
<circle cx="111.01" cy="331.31" r="1.4" fill="#000"/>
<circle cx="112.04" cy="332.84" r="1.4" fill="#000"/>
<circle cx="113.07" cy="331.82" r="1.4" fill="#000"/>
<circle cx="114.10" cy="329.27" r="1.4" fill="#000"/>
<circle cx="115.12" cy="322.04" r="1.4" fill="#000"/>
<circle cx="116.15" cy="330.80" r="1.4" fill="#000"/>
<circle cx="117.18" cy="332.33" r="1.4" fill="#000"/>
<circle cx="118.21" cy="330.29" r="1.4" fill="#000"/>
<circle cx="119.24" cy="331.31" r="1.4" fill="#000"/>
<circle cx="120.27" cy="329.27" r="1.4" fill="#000"/>
<circle cx="121.30" cy="323.95" r="1.4" fill="#000"/>
<circle cx="122.32" cy="331.31" r="1.4" fill="#000"/>
<circle cx="123.35" cy="332.84" r="1.4" fill="#000"/>
<circle cx="124.38" cy="331.31" r="1.4" fill="#000"/>
<circle cx="125.41" cy="332.33" r="1.4" fill="#000"/>
<circle cx="126.44" cy="329.27" r="1.4" fill="#000"/>
<circle cx="127.47" cy="323.95" r="1.4" fill="#000"/>
<circle cx="128.49" cy="331.31" r="1.4" fill="#000"/>
<circle cx="129.52" cy="332.84" r="1.4" fill="#000"/>
<circle cx="130.55" cy="331.82" r="1.4" fill="#000"/>
<circle cx="131.58" cy="333.36" r="1.4" fill="#000"/>
<circle cx="132.61" cy="331.31" r="1.4" fill="#000"/>
<circle cx="133.64" cy="329.27" r="1.4" fill="#000"/>
<circle cx="134.67" cy="320.95" r="1.4" fill="#000"/>
<circle cx="135.69" cy="330.29" r="1.4" fill="#000"/>
<circle cx="136.72" cy="332.33" r="1.4" fill="#000"/>
<circle cx="137.75" cy="333.36" r="1.4" fill="#000"/>
<circle cx="138.78" cy="331.82" r="1.4" fill="#000"/>
<circle cx="139.81" cy="332.84" r="1.4" fill="#000"/>
<circle cx="140.84" cy="333.36" r="1.4" fill="#000"/>
<circle cx="141.87" cy="331.82" r="1.4" fill="#000"/>
<circle cx="142.89" cy="333.87" r="1.4" fill="#000"/>
<circle cx="143.92" cy="332.84" r="1.4" fill="#000"/>
<circle cx="144.95" cy="332.33" r="1.4" fill="#000"/>
<circle cx="145.98" cy="333.36" r="1.4" fill="#000"/>
<circle cx="147.01" cy="331.82" r="1.4" fill="#000"/>
<circle cx="148.04" cy="332.84" r="1.4" fill="#000"/>
<circle cx="149.06" cy="331.31" r="1.4" fill="#000"/>
<circle cx="150.09" cy="332.33" r="1.4" fill="#000"/>
<circle cx="151.12" cy="330.29" r="1.4" fill="#000"/>
<circle cx="152.15" cy="328.24" r="1.4" fill="#000"/>
<circle cx="153.18" cy="323.00" r="1.4" fill="#000"/>
<circle cx="154.21" cy="331.31" r="1.4" fill="#000"/>
<circle cx="155.24" cy="333.36" r="1.4" fill="#000"/>
<circle cx="156.26" cy="331.82" r="1.4" fill="#000"/>
<circle cx="157.29" cy="330.29" r="1.4" fill="#000"/>
<circle cx="158.32" cy="328.24" r="1.4" fill="#000"/>
<circle cx="159.35" cy="323.00" r="1.4" fill="#000"/>
<circle cx="160.38" cy="331.31" r="1.4" fill="#000"/>
<circle cx="161.41" cy="332.33" r="1.4" fill="#000"/>
<circle cx="162.44" cy="330.29" r="1.4" fill="#000"/>
<circle cx="163.46" cy="328.24" r="1.4" fill="#000"/>
<circle cx="164.49" cy="323.00" r="1.4" fill="#000"/>
<circle cx="165.52" cy="329.27" r="1.4" fill="#000"/>
<circle cx="166.55" cy="319.04" r="1.4" fill="#000"/>
<circle cx="167.58" cy="321.77" r="1.4" fill="#000"/>
<circle cx="168.61" cy="316.05" r="1.4" fill="#000"/>
<circle cx="169.63" cy="331.31" r="1.4" fill="#000"/>
<circle cx="170.66" cy="324.50" r="1.4" fill="#000"/>
<circle cx="171.69" cy="314.95" r="1.4" fill="#000"/>
<circle cx="172.72" cy="329.27" r="1.4" fill="#000"/>
<circle cx="173.75" cy="333.36" r="1.4" fill="#000"/>
<circle cx="174.78" cy="329.95" r="1.4" fill="#000"/>
<circle cx="175.81" cy="327.22" r="1.4" fill="#000"/>
<circle cx="176.83" cy="328.58" r="1.4" fill="#000"/>
<circle cx="177.86" cy="325.86" r="1.4" fill="#000"/>
<circle cx="178.89" cy="329.95" r="1.4" fill="#000"/>
<circle cx="179.92" cy="332.67" r="1.4" fill="#000"/>
<circle cx="180.95" cy="331.04" r="1.4" fill="#000"/>
<circle cx="181.98" cy="334.04" r="1.4" fill="#000"/>
<circle cx="183.01" cy="327.22" r="1.4" fill="#000"/>
<circle cx="184.03" cy="324.50" r="1.4" fill="#000"/>
<circle cx="185.06" cy="319.04" r="1.4" fill="#000"/>
<circle cx="186.09" cy="329.95" r="1.4" fill="#000"/>
<circle cx="187.12" cy="323.13" r="1.4" fill="#000"/>
<circle cx="188.15" cy="320.41" r="1.4" fill="#000"/>
<circle cx="189.18" cy="314.95" r="1.4" fill="#000"/>
<circle cx="190.20" cy="327.22" r="1.4" fill="#000"/>
<circle cx="191.23" cy="334.99" r="1.4" fill="#000"/>
<circle cx="192.26" cy="324.50" r="1.4" fill="#000"/>
<circle cx="193.29" cy="319.04" r="1.4" fill="#000"/>
<circle cx="194.32" cy="313.05" r="1.4" fill="#000"/>
<circle cx="195.35" cy="329.95" r="1.4" fill="#000"/>
<circle cx="196.38" cy="334.72" r="1.4" fill="#000"/>
<circle cx="197.40" cy="329.95" r="1.4" fill="#000"/>
<circle cx="198.43" cy="323.13" r="1.4" fill="#000"/>
<circle cx="199.46" cy="317.00" r="1.4" fill="#000"/>
<circle cx="200.49" cy="324.50" r="1.4" fill="#000"/>
<circle cx="201.52" cy="331.31" r="1.4" fill="#000"/>
<circle cx="202.55" cy="311.96" r="1.4" fill="#000"/>
<circle cx="203.58" cy="327.22" r="1.4" fill="#000"/>
<circle cx="204.60" cy="334.04" r="1.4" fill="#000"/>
<circle cx="205.63" cy="314.95" r="1.4" fill="#000"/>
<circle cx="206.66" cy="301.05" r="1.4" fill="#000"/>
<circle cx="207.69" cy="321.77" r="1.4" fill="#000"/>
<circle cx="208.72" cy="329.95" r="1.4" fill="#000"/>
<circle cx="209.75" cy="334.04" r="1.4" fill="#000"/>
<circle cx="210.77" cy="334.72" r="1.4" fill="#000"/>
<circle cx="211.80" cy="321.77" r="1.4" fill="#000"/>
<circle cx="212.83" cy="310.87" r="1.4" fill="#000"/>
<circle cx="213.86" cy="300.64" r="1.4" fill="#000"/>
<circle cx="214.89" cy="334.72" r="1.4" fill="#000"/>
<circle cx="215.92" cy="321.77" r="1.4" fill="#000"/>
<circle cx="216.95" cy="314.95" r="1.4" fill="#000"/>
<circle cx="217.97" cy="311.00" r="1.4" fill="#000"/>
<circle cx="219.00" cy="319.04" r="1.4" fill="#000"/>
<circle cx="220.03" cy="332.67" r="1.4" fill="#000"/>
<circle cx="221.06" cy="317.00" r="1.4" fill="#000"/>
<circle cx="222.09" cy="317.68" r="1.4" fill="#000"/>
<circle cx="223.12" cy="317.41" r="1.4" fill="#000"/>
<circle cx="224.15" cy="334.72" r="1.4" fill="#000"/>
<circle cx="225.17" cy="331.31" r="1.4" fill="#000"/>
<circle cx="226.20" cy="326.00" r="1.4" fill="#000"/>
<circle cx="227.23" cy="331.31" r="1.4" fill="#000"/>
<circle cx="228.26" cy="332.67" r="1.4" fill="#000"/>
<circle cx="229.29" cy="333.36" r="1.4" fill="#000"/>
<circle cx="230.32" cy="331.31" r="1.4" fill="#000"/>
<circle cx="231.34" cy="329.95" r="1.4" fill="#000"/>
<circle cx="232.37" cy="325.86" r="1.4" fill="#000"/>
<circle cx="233.40" cy="324.36" r="1.4" fill="#000"/>
<circle cx="240.60" cy="329.95" r="1.4" fill="#000"/>
<circle cx="241.63" cy="331.31" r="1.4" fill="#000"/>
<circle cx="242.66" cy="327.22" r="1.4" fill="#000"/>
<circle cx="243.69" cy="325.04" r="1.4" fill="#000"/>
<circle cx="244.72" cy="320.95" r="1.4" fill="#000"/>
<circle cx="245.74" cy="327.22" r="1.4" fill="#000"/>
<circle cx="246.77" cy="331.31" r="1.4" fill="#000"/>
<circle cx="247.80" cy="332.67" r="1.4" fill="#000"/>
<circle cx="248.83" cy="333.36" r="1.4" fill="#000"/>
<circle cx="249.86" cy="331.99" r="1.4" fill="#000"/>
<circle cx="250.89" cy="334.04" r="1.4" fill="#000"/>
<circle cx="251.91" cy="333.36" r="1.4" fill="#000"/>
<circle cx="252.94" cy="334.31" r="1.4" fill="#000"/>
<circle cx="253.97" cy="333.76" r="1.4" fill="#000"/>
<circle cx="255.00" cy="334.24" r="1.4" fill="#000"/>
<circle cx="256.03" cy="334.72" r="1.4" fill="#000"/>
<circle cx="257.06" cy="334.38" r="1.4" fill="#000"/>
<circle cx="258.09" cy="334.04" r="1.4" fill="#000"/>
<circle cx="259.11" cy="334.38" r="1.4" fill="#000"/>
<circle cx="260.14" cy="334.72" r="1.4" fill="#000"/>
<circle cx="261.17" cy="334.85" r="1.4" fill="#000"/>
<circle cx="262.20" cy="334.99" r="1.4" fill="#000"/>
<line x1="307.5" y1="198.8" x2="307.5" y2="337.4" stroke="#7c7c7c" stroke-width="1"/>
<line x1="304.30" y1="337.40" x2="307.5" y2="337.40" stroke="#7c7c7c" stroke-width="0.9"/>
<text x="294.51" y="340.50" font-size="8.8" fill="#333">0</text>
<line x1="304.30" y1="314.30" x2="307.5" y2="314.30" stroke="#7c7c7c" stroke-width="0.9"/>
<text x="284.72" y="317.40" font-size="8.8" fill="#333">3</text><text x="289.61" y="317.40" font-size="8.8" fill="#333">0</text><text x="294.51" y="317.40" font-size="8.8" fill="#333">0</text>
<line x1="304.30" y1="291.20" x2="307.5" y2="291.20" stroke="#7c7c7c" stroke-width="0.9"/>
<text x="284.72" y="294.30" font-size="8.8" fill="#333">6</text><text x="289.61" y="294.30" font-size="8.8" fill="#333">0</text><text x="294.51" y="294.30" font-size="8.8" fill="#333">0</text>
<line x1="304.30" y1="268.10" x2="307.5" y2="268.10" stroke="#7c7c7c" stroke-width="0.9"/>
<text x="284.72" y="271.20" font-size="8.8" fill="#333">9</text><text x="289.61" y="271.20" font-size="8.8" fill="#333">0</text><text x="294.51" y="271.20" font-size="8.8" fill="#333">0</text>
<line x1="304.30" y1="245.00" x2="307.5" y2="245.00" stroke="#7c7c7c" stroke-width="0.9"/>
<path d="M763,0L583,0L583,1147C540,1106 483,1064 412,1023C341,982 277,951 223,931L223,1105C320,1150 405,1206 478,1270C551,1334 603,1390 630,1409L763,1409Z" transform="translate(279.82,248.10) scale(0.00430,-0.00430)" fill="#333" stroke="#2a2a2a" stroke-width="0.3" vector-effect="non-scaling-stroke"/><text x="284.72" y="248.10" font-size="8.8" fill="#333">2</text><text x="289.61" y="248.10" font-size="8.8" fill="#333">0</text><text x="294.51" y="248.10" font-size="8.8" fill="#333">0</text>
<line x1="304.30" y1="221.90" x2="307.5" y2="221.90" stroke="#7c7c7c" stroke-width="0.9"/>
<path d="M763,0L583,0L583,1147C540,1106 483,1064 412,1023C341,982 277,951 223,931L223,1105C320,1150 405,1206 478,1270C551,1334 603,1390 630,1409L763,1409Z" transform="translate(279.82,225.00) scale(0.00430,-0.00430)" fill="#333" stroke="#2a2a2a" stroke-width="0.3" vector-effect="non-scaling-stroke"/><text x="284.72" y="225.00" font-size="8.8" fill="#333">5</text><text x="289.61" y="225.00" font-size="8.8" fill="#333">0</text><text x="294.51" y="225.00" font-size="8.8" fill="#333">0</text>
<line x1="304.30" y1="198.80" x2="307.5" y2="198.80" stroke="#7c7c7c" stroke-width="0.9"/>
<path d="M763,0L583,0L583,1147C540,1106 483,1064 412,1023C341,982 277,951 223,931L223,1105C320,1150 405,1206 478,1270C551,1334 603,1390 630,1409L763,1409Z" transform="translate(279.82,201.90) scale(0.00430,-0.00430)" fill="#333" stroke="#2a2a2a" stroke-width="0.3" vector-effect="non-scaling-stroke"/><text x="284.72" y="201.90" font-size="8.8" fill="#333">8</text><text x="289.61" y="201.90" font-size="8.8" fill="#333">0</text><text x="294.51" y="201.90" font-size="8.8" fill="#333">0</text>
<line x1="307.5" y1="337.5" x2="538.2" y2="337.5" stroke="#7c7c7c" stroke-width="1"/>
<line x1="307.50" y1="337.4" x2="307.50" y2="339.60" stroke="#bbb" stroke-width="0.8"/>
<path d="M763,0L583,0L583,1147C540,1106 483,1064 412,1023C341,982 277,951 223,931L223,1105C320,1150 405,1206 478,1270C551,1334 603,1390 630,1409L763,1409Z" transform="translate(300.16,350.30) scale(0.00430,-0.00430)" fill="#333" stroke="#2a2a2a" stroke-width="0.3" vector-effect="non-scaling-stroke"/><path d="M763,0L583,0L583,1147C540,1106 483,1064 412,1023C341,982 277,951 223,931L223,1105C320,1150 405,1206 478,1270C551,1334 603,1390 630,1409L763,1409Z" transform="translate(305.05,350.30) scale(0.00430,-0.00430)" fill="#333" stroke="#2a2a2a" stroke-width="0.3" vector-effect="non-scaling-stroke"/><text x="309.95" y="350.30" font-size="8.8" fill="#333">8</text>
<line x1="335.36" y1="337.4" x2="335.36" y2="339.60" stroke="#bbb" stroke-width="0.8"/>
<path d="M763,0L583,0L583,1147C540,1106 483,1064 412,1023C341,982 277,951 223,931L223,1105C320,1150 405,1206 478,1270C551,1334 603,1390 630,1409L763,1409Z" transform="translate(328.02,350.30) scale(0.00430,-0.00430)" fill="#333" stroke="#2a2a2a" stroke-width="0.3" vector-effect="non-scaling-stroke"/><text x="332.92" y="350.30" font-size="8.8" fill="#333">4</text><text x="337.81" y="350.30" font-size="8.8" fill="#333">3</text>
<line x1="363.22" y1="337.4" x2="363.22" y2="339.60" stroke="#bbb" stroke-width="0.8"/>
<path d="M763,0L583,0L583,1147C540,1106 483,1064 412,1023C341,982 277,951 223,931L223,1105C320,1150 405,1206 478,1270C551,1334 603,1390 630,1409L763,1409Z" transform="translate(355.88,350.30) scale(0.00430,-0.00430)" fill="#333" stroke="#2a2a2a" stroke-width="0.3" vector-effect="non-scaling-stroke"/><text x="360.78" y="350.30" font-size="8.8" fill="#333">6</text><text x="365.67" y="350.30" font-size="8.8" fill="#333">8</text>
<line x1="391.09" y1="337.4" x2="391.09" y2="339.60" stroke="#bbb" stroke-width="0.8"/>
<path d="M763,0L583,0L583,1147C540,1106 483,1064 412,1023C341,982 277,951 223,931L223,1105C320,1150 405,1206 478,1270C551,1334 603,1390 630,1409L763,1409Z" transform="translate(383.75,350.30) scale(0.00430,-0.00430)" fill="#333" stroke="#2a2a2a" stroke-width="0.3" vector-effect="non-scaling-stroke"/><text x="388.64" y="350.30" font-size="8.8" fill="#333">9</text><text x="393.53" y="350.30" font-size="8.8" fill="#333">3</text>
<line x1="418.95" y1="337.4" x2="418.95" y2="339.60" stroke="#bbb" stroke-width="0.8"/>
<text x="411.61" y="350.30" font-size="8.8" fill="#333">2</text><path d="M763,0L583,0L583,1147C540,1106 483,1064 412,1023C341,982 277,951 223,931L223,1105C320,1150 405,1206 478,1270C551,1334 603,1390 630,1409L763,1409Z" transform="translate(416.50,350.30) scale(0.00430,-0.00430)" fill="#333" stroke="#2a2a2a" stroke-width="0.3" vector-effect="non-scaling-stroke"/><text x="421.40" y="350.30" font-size="8.8" fill="#333">8</text>
<line x1="446.81" y1="337.4" x2="446.81" y2="339.60" stroke="#bbb" stroke-width="0.8"/>
<text x="439.47" y="350.30" font-size="8.8" fill="#333">2</text><text x="444.36" y="350.30" font-size="8.8" fill="#333">4</text><text x="449.26" y="350.30" font-size="8.8" fill="#333">3</text>
<line x1="474.67" y1="337.4" x2="474.67" y2="339.60" stroke="#bbb" stroke-width="0.8"/>
<text x="467.33" y="350.30" font-size="8.8" fill="#333">2</text><text x="472.23" y="350.30" font-size="8.8" fill="#333">6</text><text x="477.12" y="350.30" font-size="8.8" fill="#333">8</text>
<line x1="502.54" y1="337.4" x2="502.54" y2="339.60" stroke="#bbb" stroke-width="0.8"/>
<text x="495.20" y="350.30" font-size="8.8" fill="#333">2</text><text x="500.09" y="350.30" font-size="8.8" fill="#333">9</text><text x="504.98" y="350.30" font-size="8.8" fill="#333">3</text>
<line x1="530.40" y1="337.4" x2="530.40" y2="339.60" stroke="#bbb" stroke-width="0.8"/>
<text x="523.06" y="350.30" font-size="8.8" fill="#333">3</text><path d="M763,0L583,0L583,1147C540,1106 483,1064 412,1023C341,982 277,951 223,931L223,1105C320,1150 405,1206 478,1270C551,1334 603,1390 630,1409L763,1409Z" transform="translate(527.95,350.30) scale(0.00430,-0.00430)" fill="#333" stroke="#2a2a2a" stroke-width="0.3" vector-effect="non-scaling-stroke"/><text x="532.85" y="350.30" font-size="8.8" fill="#333">8</text>
<text x="312.4" y="205.5" font-size="10.4" font-style="italic" fill="#222" style="stroke-width:0.12px" textLength="47.2" lengthAdjust="spacingAndGlyphs">Kalopanax</text>
<text x="364.6" y="205.5" font-size="10.4" font-style="italic" fill="#222" style="stroke-width:0.12px" textLength="57.4" lengthAdjust="spacingAndGlyphs">septemlobus</text>
<path d="M307.5,337.4 308.6,337.4 309.7,337.4 310.8,337.4 312.0,337.4 313.1,337.4 314.2,337.4 315.3,337.4 316.4,337.3 317.5,337.3 318.6,337.2 319.8,337.2 320.9,337.1 322.0,337.0 323.1,336.9 324.2,336.8 325.3,336.6 326.4,336.5 327.6,336.4 328.7,336.2 329.8,336.1 330.9,335.9 332.0,334.6 333.1,317.7 334.2,286.1 335.4,284.0 336.5,250.5 337.6,226.6 338.7,218.2 339.8,210.4 340.9,269.2 342.0,268.8 343.2,254.0 344.3,288.2 345.4,228.8 346.5,291.4 347.6,266.7 348.7,268.2 349.9,275.8 351.0,230.2 352.1,298.9 353.2,265.2 354.3,315.6 355.4,320.9 356.5,317.2 357.7,313.5 358.8,281.9 359.9,285.0 361.0,321.9 362.1,323.0 363.2,221.4 364.3,242.0 365.5,242.0 366.6,286.1 367.7,292.4 368.8,300.8 369.9,324.1 371.0,315.6 372.1,256.2 373.3,238.8 374.4,320.9 375.5,306.1 376.6,312.5 377.7,298.7 378.8,326.2 379.9,293.5 381.1,312.5 382.2,318.1 383.3,323.0 384.4,314.3 385.5,321.9 386.6,286.1 387.7,315.6 388.9,314.0 390.0,312.5 391.1,296.7 392.2,294.5 393.3,303.0 394.4,324.1 395.5,310.4 396.7,299.8 397.8,311.4 398.9,300.3 400.0,289.3 401.1,283.5 402.2,267.3 403.3,314.5 404.5,276.6 405.6,272.4 406.7,298.9 407.8,323.0 408.9,250.5 410.0,254.0 411.1,259.3 412.3,275.8 413.4,286.1 414.5,298.9 415.6,307.1 416.7,261.4 417.8,243.5 418.9,246.6 420.1,251.9 421.2,275.8 422.3,253.4 423.4,274.5 424.5,272.4 425.6,285.0 426.8,291.4 427.9,319.8 429.0,298.9 430.1,283.5 431.2,263.1 432.3,284.0 433.4,306.6 434.6,319.8 435.7,251.3 436.8,268.1 437.9,251.3 439.0,274.5 440.1,266.0 441.2,291.4 442.4,292.4 443.5,293.5 444.6,319.8 445.7,320.9 446.8,258.2 447.9,291.2 449.0,314.3 450.2,266.0 451.3,272.4 452.4,297.7 453.5,267.7 454.6,246.6 455.7,251.3 456.8,268.1 458.0,261.4 459.1,289.3 460.2,310.4 461.3,298.9 462.4,264.6 463.5,253.4 464.6,273.4 465.8,324.1 466.9,306.6 468.0,295.6 469.1,267.7 470.2,292.4 471.3,283.5 472.4,314.5 473.6,268.8 474.7,268.2 475.8,284.0 476.9,275.8 478.0,261.9 479.1,286.1 480.2,280.8 481.4,308.2 482.5,269.3 483.6,297.7 484.7,283.5 485.8,255.1 486.9,305.1 488.0,309.7 489.2,314.3 490.3,298.9 491.4,273.4 492.5,314.5 493.6,298.9 494.7,271.3 495.8,295.6 497.0,319.8 498.1,322.0 499.2,323.9 500.3,325.8 501.4,323.5 502.5,302.8 503.7,313.0 504.8,314.3 505.9,316.6 507.0,318.5 508.1,319.7 509.2,320.5 510.3,321.2 511.5,322.0M515.9,320.8 517.0,329.7 518.1,333.5 519.3,334.3 520.4,335.1 521.5,333.9 522.6,335.5 523.7,335.1 524.8,335.9 525.9,334.7 527.1,335.5 528.2,334.8 529.3,335.3 530.4,335.9 531.5,335.7 532.6,335.6 533.7,335.5 534.9,335.7 536.0,335.9 537.1,336.1 538.2,336.2" fill="none" stroke="#b0b0b0" stroke-width="0.8"/>
<circle cx="307.50" cy="337.40" r="1.15" fill="#999"/>
<circle cx="308.61" cy="337.40" r="1.15" fill="#999"/>
<circle cx="309.73" cy="337.40" r="1.15" fill="#999"/>
<circle cx="310.84" cy="337.40" r="1.15" fill="#999"/>
<circle cx="311.96" cy="337.40" r="1.15" fill="#999"/>
<circle cx="313.07" cy="337.40" r="1.15" fill="#999"/>
<circle cx="314.19" cy="337.40" r="1.15" fill="#999"/>
<circle cx="315.30" cy="337.40" r="1.15" fill="#999"/>
<circle cx="316.42" cy="337.35" r="1.15" fill="#999"/>
<circle cx="317.53" cy="337.30" r="1.15" fill="#999"/>
<circle cx="318.64" cy="337.25" r="1.15" fill="#999"/>
<circle cx="319.76" cy="337.17" r="1.15" fill="#999"/>
<circle cx="320.87" cy="337.09" r="1.15" fill="#999"/>
<circle cx="321.99" cy="337.01" r="1.15" fill="#999"/>
<circle cx="323.10" cy="336.89" r="1.15" fill="#999"/>
<circle cx="324.22" cy="336.76" r="1.15" fill="#999"/>
<circle cx="325.33" cy="336.63" r="1.15" fill="#999"/>
<circle cx="326.45" cy="336.50" r="1.15" fill="#999"/>
<circle cx="327.56" cy="336.37" r="1.15" fill="#999"/>
<circle cx="328.68" cy="336.25" r="1.15" fill="#999"/>
<circle cx="329.79" cy="336.05" r="1.15" fill="#999"/>
<circle cx="330.90" cy="335.86" r="1.15" fill="#999"/>
<circle cx="332.02" cy="334.63" r="1.15" fill="#999"/>
<circle cx="333.13" cy="317.69" r="1.15" fill="#999"/>
<circle cx="334.25" cy="286.12" r="1.15" fill="#999"/>
<circle cx="335.36" cy="283.96" r="1.15" fill="#999"/>
<circle cx="336.48" cy="250.47" r="1.15" fill="#999"/>
<circle cx="337.59" cy="226.60" r="1.15" fill="#999"/>
<circle cx="338.71" cy="218.20" r="1.15" fill="#999"/>
<circle cx="339.82" cy="210.35" r="1.15" fill="#999"/>
<circle cx="340.93" cy="269.18" r="1.15" fill="#999"/>
<circle cx="342.05" cy="268.79" r="1.15" fill="#999"/>
<circle cx="343.16" cy="254.01" r="1.15" fill="#999"/>
<circle cx="344.28" cy="288.20" r="1.15" fill="#999"/>
<circle cx="345.39" cy="228.75" r="1.15" fill="#999"/>
<circle cx="346.51" cy="291.35" r="1.15" fill="#999"/>
<circle cx="347.62" cy="266.71" r="1.15" fill="#999"/>
<circle cx="348.74" cy="268.18" r="1.15" fill="#999"/>
<circle cx="349.85" cy="275.80" r="1.15" fill="#999"/>
<circle cx="350.97" cy="230.22" r="1.15" fill="#999"/>
<circle cx="352.08" cy="298.90" r="1.15" fill="#999"/>
<circle cx="353.19" cy="265.17" r="1.15" fill="#999"/>
<circle cx="354.31" cy="315.61" r="1.15" fill="#999"/>
<circle cx="355.42" cy="320.92" r="1.15" fill="#999"/>
<circle cx="356.54" cy="317.23" r="1.15" fill="#999"/>
<circle cx="357.65" cy="313.53" r="1.15" fill="#999"/>
<circle cx="358.77" cy="281.88" r="1.15" fill="#999"/>
<circle cx="359.88" cy="285.04" r="1.15" fill="#999"/>
<circle cx="361.00" cy="321.92" r="1.15" fill="#999"/>
<circle cx="362.11" cy="323.00" r="1.15" fill="#999"/>
<circle cx="363.22" cy="221.36" r="1.15" fill="#999"/>
<circle cx="364.34" cy="242.00" r="1.15" fill="#999"/>
<circle cx="365.45" cy="242.00" r="1.15" fill="#999"/>
<circle cx="366.57" cy="286.12" r="1.15" fill="#999"/>
<circle cx="367.68" cy="292.43" r="1.15" fill="#999"/>
<circle cx="368.80" cy="300.82" r="1.15" fill="#999"/>
<circle cx="369.91" cy="324.08" r="1.15" fill="#999"/>
<circle cx="371.03" cy="315.61" r="1.15" fill="#999"/>
<circle cx="372.14" cy="256.16" r="1.15" fill="#999"/>
<circle cx="373.26" cy="238.84" r="1.15" fill="#999"/>
<circle cx="374.37" cy="320.92" r="1.15" fill="#999"/>
<circle cx="375.48" cy="306.14" r="1.15" fill="#999"/>
<circle cx="376.60" cy="312.45" r="1.15" fill="#999"/>
<circle cx="377.71" cy="298.75" r="1.15" fill="#999"/>
<circle cx="378.83" cy="326.16" r="1.15" fill="#999"/>
<circle cx="379.94" cy="293.51" r="1.15" fill="#999"/>
<circle cx="381.06" cy="312.45" r="1.15" fill="#999"/>
<circle cx="382.17" cy="318.15" r="1.15" fill="#999"/>
<circle cx="383.29" cy="323.00" r="1.15" fill="#999"/>
<circle cx="384.40" cy="314.30" r="1.15" fill="#999"/>
<circle cx="385.51" cy="321.92" r="1.15" fill="#999"/>
<circle cx="386.63" cy="286.12" r="1.15" fill="#999"/>
<circle cx="387.74" cy="315.61" r="1.15" fill="#999"/>
<circle cx="388.86" cy="314.03" r="1.15" fill="#999"/>
<circle cx="389.97" cy="312.45" r="1.15" fill="#999"/>
<circle cx="391.09" cy="296.67" r="1.15" fill="#999"/>
<circle cx="392.20" cy="294.51" r="1.15" fill="#999"/>
<circle cx="393.32" cy="302.98" r="1.15" fill="#999"/>
<circle cx="394.43" cy="324.08" r="1.15" fill="#999"/>
<circle cx="395.54" cy="310.45" r="1.15" fill="#999"/>
<circle cx="396.66" cy="299.82" r="1.15" fill="#999"/>
<circle cx="397.77" cy="311.37" r="1.15" fill="#999"/>
<circle cx="398.89" cy="300.32" r="1.15" fill="#999"/>
<circle cx="400.00" cy="289.27" r="1.15" fill="#999"/>
<circle cx="401.12" cy="283.50" r="1.15" fill="#999"/>
<circle cx="402.23" cy="267.33" r="1.15" fill="#999"/>
<circle cx="403.35" cy="314.53" r="1.15" fill="#999"/>
<circle cx="404.46" cy="276.57" r="1.15" fill="#999"/>
<circle cx="405.58" cy="272.41" r="1.15" fill="#999"/>
<circle cx="406.69" cy="298.90" r="1.15" fill="#999"/>
<circle cx="407.80" cy="323.00" r="1.15" fill="#999"/>
<circle cx="408.92" cy="250.47" r="1.15" fill="#999"/>
<circle cx="410.03" cy="254.01" r="1.15" fill="#999"/>
<circle cx="411.15" cy="259.32" r="1.15" fill="#999"/>
<circle cx="412.26" cy="275.80" r="1.15" fill="#999"/>
<circle cx="413.38" cy="286.12" r="1.15" fill="#999"/>
<circle cx="414.49" cy="298.90" r="1.15" fill="#999"/>
<circle cx="415.61" cy="307.14" r="1.15" fill="#999"/>
<circle cx="416.72" cy="261.40" r="1.15" fill="#999"/>
<circle cx="417.83" cy="243.46" r="1.15" fill="#999"/>
<circle cx="418.95" cy="246.62" r="1.15" fill="#999"/>
<circle cx="420.06" cy="251.93" r="1.15" fill="#999"/>
<circle cx="421.18" cy="275.80" r="1.15" fill="#999"/>
<circle cx="422.29" cy="253.39" r="1.15" fill="#999"/>
<circle cx="423.41" cy="274.49" r="1.15" fill="#999"/>
<circle cx="424.52" cy="272.41" r="1.15" fill="#999"/>
<circle cx="425.64" cy="285.04" r="1.15" fill="#999"/>
<circle cx="426.75" cy="291.35" r="1.15" fill="#999"/>
<circle cx="427.87" cy="319.84" r="1.15" fill="#999"/>
<circle cx="428.98" cy="298.90" r="1.15" fill="#999"/>
<circle cx="430.09" cy="283.50" r="1.15" fill="#999"/>
<circle cx="431.21" cy="263.09" r="1.15" fill="#999"/>
<circle cx="432.32" cy="283.96" r="1.15" fill="#999"/>
<circle cx="433.44" cy="306.60" r="1.15" fill="#999"/>
<circle cx="434.55" cy="319.84" r="1.15" fill="#999"/>
<circle cx="435.67" cy="251.31" r="1.15" fill="#999"/>
<circle cx="436.78" cy="268.10" r="1.15" fill="#999"/>
<circle cx="437.90" cy="251.31" r="1.15" fill="#999"/>
<circle cx="439.01" cy="274.49" r="1.15" fill="#999"/>
<circle cx="440.12" cy="266.02" r="1.15" fill="#999"/>
<circle cx="441.24" cy="291.35" r="1.15" fill="#999"/>
<circle cx="442.35" cy="292.43" r="1.15" fill="#999"/>
<circle cx="443.47" cy="293.51" r="1.15" fill="#999"/>
<circle cx="444.58" cy="319.84" r="1.15" fill="#999"/>
<circle cx="445.70" cy="320.92" r="1.15" fill="#999"/>
<circle cx="446.81" cy="258.24" r="1.15" fill="#999"/>
<circle cx="447.93" cy="291.20" r="1.15" fill="#999"/>
<circle cx="449.04" cy="314.30" r="1.15" fill="#999"/>
<circle cx="450.16" cy="266.02" r="1.15" fill="#999"/>
<circle cx="451.27" cy="272.41" r="1.15" fill="#999"/>
<circle cx="452.38" cy="297.67" r="1.15" fill="#999"/>
<circle cx="453.50" cy="267.71" r="1.15" fill="#999"/>
<circle cx="454.61" cy="246.62" r="1.15" fill="#999"/>
<circle cx="455.73" cy="251.31" r="1.15" fill="#999"/>
<circle cx="456.84" cy="268.10" r="1.15" fill="#999"/>
<circle cx="457.96" cy="261.40" r="1.15" fill="#999"/>
<circle cx="459.07" cy="289.27" r="1.15" fill="#999"/>
<circle cx="460.19" cy="310.37" r="1.15" fill="#999"/>
<circle cx="461.30" cy="298.90" r="1.15" fill="#999"/>
<circle cx="462.41" cy="264.56" r="1.15" fill="#999"/>
<circle cx="463.53" cy="253.39" r="1.15" fill="#999"/>
<circle cx="464.64" cy="273.41" r="1.15" fill="#999"/>
<circle cx="465.76" cy="324.08" r="1.15" fill="#999"/>
<circle cx="466.87" cy="306.60" r="1.15" fill="#999"/>
<circle cx="467.99" cy="295.59" r="1.15" fill="#999"/>
<circle cx="469.10" cy="267.71" r="1.15" fill="#999"/>
<circle cx="470.22" cy="292.43" r="1.15" fill="#999"/>
<circle cx="471.33" cy="283.50" r="1.15" fill="#999"/>
<circle cx="472.44" cy="314.53" r="1.15" fill="#999"/>
<circle cx="473.56" cy="268.79" r="1.15" fill="#999"/>
<circle cx="474.67" cy="268.18" r="1.15" fill="#999"/>
<circle cx="475.79" cy="283.96" r="1.15" fill="#999"/>
<circle cx="476.90" cy="275.80" r="1.15" fill="#999"/>
<circle cx="478.02" cy="261.86" r="1.15" fill="#999"/>
<circle cx="479.13" cy="286.12" r="1.15" fill="#999"/>
<circle cx="480.25" cy="280.81" r="1.15" fill="#999"/>
<circle cx="481.36" cy="308.22" r="1.15" fill="#999"/>
<circle cx="482.48" cy="269.25" r="1.15" fill="#999"/>
<circle cx="483.59" cy="297.67" r="1.15" fill="#999"/>
<circle cx="484.70" cy="283.50" r="1.15" fill="#999"/>
<circle cx="485.82" cy="255.09" r="1.15" fill="#999"/>
<circle cx="486.93" cy="305.06" r="1.15" fill="#999"/>
<circle cx="488.05" cy="309.68" r="1.15" fill="#999"/>
<circle cx="489.16" cy="314.30" r="1.15" fill="#999"/>
<circle cx="490.28" cy="298.90" r="1.15" fill="#999"/>
<circle cx="491.39" cy="273.41" r="1.15" fill="#999"/>
<circle cx="492.51" cy="314.53" r="1.15" fill="#999"/>
<circle cx="493.62" cy="298.90" r="1.15" fill="#999"/>
<circle cx="494.73" cy="271.33" r="1.15" fill="#999"/>
<circle cx="495.85" cy="295.59" r="1.15" fill="#999"/>
<circle cx="496.96" cy="319.84" r="1.15" fill="#999"/>
<circle cx="498.08" cy="322.00" r="1.15" fill="#999"/>
<circle cx="499.19" cy="323.92" r="1.15" fill="#999"/>
<circle cx="500.31" cy="325.85" r="1.15" fill="#999"/>
<circle cx="501.42" cy="323.54" r="1.15" fill="#999"/>
<circle cx="502.54" cy="302.83" r="1.15" fill="#999"/>
<circle cx="503.65" cy="312.99" r="1.15" fill="#999"/>
<circle cx="504.77" cy="314.30" r="1.15" fill="#999"/>
<circle cx="505.88" cy="316.61" r="1.15" fill="#999"/>
<circle cx="506.99" cy="318.46" r="1.15" fill="#999"/>
<circle cx="508.11" cy="319.69" r="1.15" fill="#999"/>
<circle cx="509.22" cy="320.46" r="1.15" fill="#999"/>
<circle cx="510.34" cy="321.23" r="1.15" fill="#999"/>
<circle cx="511.45" cy="322.00" r="1.15" fill="#999"/>
<circle cx="515.91" cy="320.77" r="1.15" fill="#999"/>
<circle cx="517.02" cy="329.70" r="1.15" fill="#999"/>
<circle cx="518.14" cy="333.55" r="1.15" fill="#999"/>
<circle cx="519.25" cy="334.32" r="1.15" fill="#999"/>
<circle cx="520.37" cy="335.09" r="1.15" fill="#999"/>
<circle cx="521.48" cy="333.94" r="1.15" fill="#999"/>
<circle cx="522.60" cy="335.47" r="1.15" fill="#999"/>
<circle cx="523.71" cy="335.09" r="1.15" fill="#999"/>
<circle cx="524.83" cy="335.86" r="1.15" fill="#999"/>
<circle cx="525.94" cy="334.70" r="1.15" fill="#999"/>
<circle cx="527.06" cy="335.47" r="1.15" fill="#999"/>
<circle cx="528.17" cy="334.83" r="1.15" fill="#999"/>
<circle cx="529.28" cy="335.35" r="1.15" fill="#999"/>
<circle cx="530.40" cy="335.86" r="1.15" fill="#999"/>
<circle cx="531.51" cy="335.73" r="1.15" fill="#999"/>
<circle cx="532.63" cy="335.60" r="1.15" fill="#999"/>
<circle cx="533.74" cy="335.47" r="1.15" fill="#999"/>
<circle cx="534.86" cy="335.67" r="1.15" fill="#999"/>
<circle cx="535.97" cy="335.86" r="1.15" fill="#999"/>
<circle cx="537.09" cy="336.05" r="1.15" fill="#999"/>
<circle cx="538.20" cy="336.25" r="1.15" fill="#999"/>
<path d="M307.5,337.4 308.6,337.4 309.7,337.4 310.8,337.4 312.0,337.4 313.1,337.4 314.2,337.4 315.3,337.4 316.4,337.4 317.5,337.3 318.6,337.3 319.8,337.2 320.9,335.4 322.0,334.7 323.1,336.3 324.2,335.2 325.3,336.1 326.4,334.7 327.6,334.0 328.7,333.2 329.8,335.2 330.9,335.8 332.0,334.7 333.1,335.8 334.2,335.0 335.4,335.5 336.5,334.7 337.6,335.8 338.7,335.2 339.8,334.4 340.9,335.5 342.0,336.1 343.2,335.0 344.3,335.8 345.4,335.2 346.5,334.4 347.6,335.8 348.7,335.0 349.9,335.5 351.0,334.7 352.1,335.2 353.2,334.2 354.3,331.7 355.4,334.2 356.5,335.2 357.7,334.4 358.8,335.5 359.9,334.2 361.0,332.5 362.1,334.7 363.2,335.5 364.3,333.9 365.5,335.1 366.6,336.6 367.7,335.1 368.8,333.5 369.9,330.6 371.0,332.8 372.1,334.4 373.3,330.5 374.4,326.2 375.5,330.6 376.6,332.8 377.7,330.1 378.8,334.4 379.9,333.5 381.1,332.0 382.2,330.1 383.3,331.2 384.4,328.5 385.5,333.9 386.6,335.9 387.7,337.2 388.9,335.1 390.0,332.8 391.1,331.2 392.2,330.5 393.3,329.0 394.4,332.0 395.5,333.9 396.7,332.8 397.8,331.2 398.9,333.5 400.0,334.4 401.1,335.1 402.2,335.6 403.3,335.1 404.5,334.7 405.6,334.3 406.7,333.9 407.8,334.3 408.9,334.7 410.0,335.0 411.1,335.2 412.3,335.5 413.4,335.6 414.5,335.7 415.6,335.9 416.7,336.1 417.8,335.5 418.9,335.1 420.1,334.4 421.2,335.9 422.3,336.6 423.4,336.2 424.5,335.6 425.6,333.5 426.8,332.0 427.9,330.3 429.0,329.7 430.1,327.7 431.2,333.5 432.3,332.8 433.4,332.9 434.6,329.7 435.7,324.0 436.8,328.7 437.9,327.7 439.0,333.5 440.1,332.0 441.2,330.9 442.4,332.4 443.5,335.1 444.6,336.1 445.7,333.5 446.8,332.9 447.9,334.0 449.0,333.5 450.2,333.5 451.3,335.1 452.4,334.3 453.5,331.4 454.6,328.2 455.7,332.8 456.8,333.5 458.0,332.0 459.1,330.9 460.2,333.5 461.3,336.1 462.4,332.8 463.5,330.3 464.6,324.0 465.8,336.1 466.9,336.1 468.0,335.1 469.1,334.3 470.2,333.5 471.3,331.4 472.4,334.3 473.6,329.7 474.7,325.1 475.8,330.9 476.9,336.1 478.0,324.0 479.1,328.9 480.2,331.6 481.4,334.3 482.5,336.6 483.6,332.8 484.7,328.9 485.8,315.3 486.9,334.9 488.0,331.2 489.2,327.9 490.3,322.9 491.4,330.0 492.5,336.6 493.6,331.2 494.7,324.0 495.8,327.9 497.0,334.3 498.1,336.0 499.2,336.0 500.3,335.5 501.4,335.1 502.5,334.9 503.7,329.7 504.8,325.1 505.9,334.9 507.0,334.3 508.1,332.8 509.2,332.2 510.3,325.8 511.5,319.6M515.9,335.5 517.0,333.9 518.1,334.3 519.3,333.9 520.4,335.9 521.5,336.2 522.6,335.5 523.7,335.9 524.8,336.2 525.9,335.5 527.1,334.9 528.2,336.2 529.3,336.8 530.4,337.2 531.5,337.0 532.6,336.8 533.7,337.0 534.9,337.0 536.0,337.0 537.1,337.2 538.2,337.2" fill="none" stroke="#000" stroke-width="1.25" stroke-linejoin="round"/>
<circle cx="307.50" cy="337.40" r="1.4" fill="#000"/>
<circle cx="308.61" cy="337.40" r="1.4" fill="#000"/>
<circle cx="309.73" cy="337.40" r="1.4" fill="#000"/>
<circle cx="310.84" cy="337.40" r="1.4" fill="#000"/>
<circle cx="311.96" cy="337.40" r="1.4" fill="#000"/>
<circle cx="313.07" cy="337.40" r="1.4" fill="#000"/>
<circle cx="314.19" cy="337.40" r="1.4" fill="#000"/>
<circle cx="315.30" cy="337.40" r="1.4" fill="#000"/>
<circle cx="316.42" cy="337.36" r="1.4" fill="#000"/>
<circle cx="317.53" cy="337.32" r="1.4" fill="#000"/>
<circle cx="318.64" cy="337.28" r="1.4" fill="#000"/>
<circle cx="319.76" cy="337.25" r="1.4" fill="#000"/>
<circle cx="320.87" cy="335.40" r="1.4" fill="#000"/>
<circle cx="321.99" cy="334.70" r="1.4" fill="#000"/>
<circle cx="323.10" cy="336.32" r="1.4" fill="#000"/>
<circle cx="324.22" cy="335.24" r="1.4" fill="#000"/>
<circle cx="325.33" cy="336.05" r="1.4" fill="#000"/>
<circle cx="326.45" cy="334.70" r="1.4" fill="#000"/>
<circle cx="327.56" cy="333.98" r="1.4" fill="#000"/>
<circle cx="328.68" cy="333.25" r="1.4" fill="#000"/>
<circle cx="329.79" cy="335.24" r="1.4" fill="#000"/>
<circle cx="330.90" cy="335.78" r="1.4" fill="#000"/>
<circle cx="332.02" cy="334.70" r="1.4" fill="#000"/>
<circle cx="333.13" cy="335.78" r="1.4" fill="#000"/>
<circle cx="334.25" cy="334.97" r="1.4" fill="#000"/>
<circle cx="335.36" cy="335.51" r="1.4" fill="#000"/>
<circle cx="336.48" cy="334.70" r="1.4" fill="#000"/>
<circle cx="337.59" cy="335.78" r="1.4" fill="#000"/>
<circle cx="338.71" cy="335.24" r="1.4" fill="#000"/>
<circle cx="339.82" cy="334.44" r="1.4" fill="#000"/>
<circle cx="340.93" cy="335.51" r="1.4" fill="#000"/>
<circle cx="342.05" cy="336.05" r="1.4" fill="#000"/>
<circle cx="343.16" cy="334.97" r="1.4" fill="#000"/>
<circle cx="344.28" cy="335.78" r="1.4" fill="#000"/>
<circle cx="345.39" cy="335.24" r="1.4" fill="#000"/>
<circle cx="346.51" cy="334.44" r="1.4" fill="#000"/>
<circle cx="347.62" cy="335.78" r="1.4" fill="#000"/>
<circle cx="348.74" cy="334.97" r="1.4" fill="#000"/>
<circle cx="349.85" cy="335.51" r="1.4" fill="#000"/>
<circle cx="350.97" cy="334.70" r="1.4" fill="#000"/>
<circle cx="352.08" cy="335.24" r="1.4" fill="#000"/>
<circle cx="353.19" cy="334.17" r="1.4" fill="#000"/>
<circle cx="354.31" cy="331.74" r="1.4" fill="#000"/>
<circle cx="355.42" cy="334.17" r="1.4" fill="#000"/>
<circle cx="356.54" cy="335.24" r="1.4" fill="#000"/>
<circle cx="357.65" cy="334.44" r="1.4" fill="#000"/>
<circle cx="358.77" cy="335.51" r="1.4" fill="#000"/>
<circle cx="359.88" cy="334.17" r="1.4" fill="#000"/>
<circle cx="361.00" cy="332.50" r="1.4" fill="#000"/>
<circle cx="362.11" cy="334.70" r="1.4" fill="#000"/>
<circle cx="363.22" cy="335.51" r="1.4" fill="#000"/>
<circle cx="364.34" cy="333.94" r="1.4" fill="#000"/>
<circle cx="365.45" cy="335.09" r="1.4" fill="#000"/>
<circle cx="366.57" cy="336.63" r="1.4" fill="#000"/>
<circle cx="367.68" cy="335.09" r="1.4" fill="#000"/>
<circle cx="368.80" cy="333.55" r="1.4" fill="#000"/>
<circle cx="369.91" cy="330.62" r="1.4" fill="#000"/>
<circle cx="371.03" cy="332.78" r="1.4" fill="#000"/>
<circle cx="372.14" cy="334.40" r="1.4" fill="#000"/>
<circle cx="373.26" cy="330.47" r="1.4" fill="#000"/>
<circle cx="374.37" cy="326.23" r="1.4" fill="#000"/>
<circle cx="375.48" cy="330.62" r="1.4" fill="#000"/>
<circle cx="376.60" cy="332.78" r="1.4" fill="#000"/>
<circle cx="377.71" cy="330.08" r="1.4" fill="#000"/>
<circle cx="378.83" cy="334.40" r="1.4" fill="#000"/>
<circle cx="379.94" cy="333.55" r="1.4" fill="#000"/>
<circle cx="381.06" cy="332.01" r="1.4" fill="#000"/>
<circle cx="382.17" cy="330.08" r="1.4" fill="#000"/>
<circle cx="383.29" cy="331.24" r="1.4" fill="#000"/>
<circle cx="384.40" cy="328.47" r="1.4" fill="#000"/>
<circle cx="385.51" cy="333.94" r="1.4" fill="#000"/>
<circle cx="386.63" cy="335.86" r="1.4" fill="#000"/>
<circle cx="387.74" cy="337.17" r="1.4" fill="#000"/>
<circle cx="388.86" cy="335.09" r="1.4" fill="#000"/>
<circle cx="389.97" cy="332.78" r="1.4" fill="#000"/>
<circle cx="391.09" cy="331.16" r="1.4" fill="#000"/>
<circle cx="392.20" cy="330.47" r="1.4" fill="#000"/>
<circle cx="393.32" cy="329.01" r="1.4" fill="#000"/>
<circle cx="394.43" cy="332.01" r="1.4" fill="#000"/>
<circle cx="395.54" cy="333.94" r="1.4" fill="#000"/>
<circle cx="396.66" cy="332.78" r="1.4" fill="#000"/>
<circle cx="397.77" cy="331.16" r="1.4" fill="#000"/>
<circle cx="398.89" cy="333.55" r="1.4" fill="#000"/>
<circle cx="400.00" cy="334.40" r="1.4" fill="#000"/>
<circle cx="401.12" cy="335.09" r="1.4" fill="#000"/>
<circle cx="402.23" cy="335.55" r="1.4" fill="#000"/>
<circle cx="403.35" cy="335.09" r="1.4" fill="#000"/>
<circle cx="404.46" cy="334.70" r="1.4" fill="#000"/>
<circle cx="405.58" cy="334.32" r="1.4" fill="#000"/>
<circle cx="406.69" cy="333.94" r="1.4" fill="#000"/>
<circle cx="407.80" cy="334.32" r="1.4" fill="#000"/>
<circle cx="408.92" cy="334.70" r="1.4" fill="#000"/>
<circle cx="410.03" cy="335.01" r="1.4" fill="#000"/>
<circle cx="411.15" cy="335.24" r="1.4" fill="#000"/>
<circle cx="412.26" cy="335.47" r="1.4" fill="#000"/>
<circle cx="413.38" cy="335.55" r="1.4" fill="#000"/>
<circle cx="414.49" cy="335.71" r="1.4" fill="#000"/>
<circle cx="415.61" cy="335.86" r="1.4" fill="#000"/>
<circle cx="416.72" cy="336.09" r="1.4" fill="#000"/>
<circle cx="417.83" cy="335.47" r="1.4" fill="#000"/>
<circle cx="418.95" cy="335.09" r="1.4" fill="#000"/>
<circle cx="420.06" cy="334.40" r="1.4" fill="#000"/>
<circle cx="421.18" cy="335.86" r="1.4" fill="#000"/>
<circle cx="422.29" cy="336.63" r="1.4" fill="#000"/>
<circle cx="423.41" cy="336.25" r="1.4" fill="#000"/>
<circle cx="424.52" cy="335.55" r="1.4" fill="#000"/>
<circle cx="425.64" cy="333.55" r="1.4" fill="#000"/>
<circle cx="426.75" cy="332.01" r="1.4" fill="#000"/>
<circle cx="427.87" cy="330.32" r="1.4" fill="#000"/>
<circle cx="428.98" cy="329.70" r="1.4" fill="#000"/>
<circle cx="430.09" cy="327.70" r="1.4" fill="#000"/>
<circle cx="431.21" cy="333.47" r="1.4" fill="#000"/>
<circle cx="432.32" cy="332.78" r="1.4" fill="#000"/>
<circle cx="433.44" cy="332.93" r="1.4" fill="#000"/>
<circle cx="434.55" cy="329.70" r="1.4" fill="#000"/>
<circle cx="435.67" cy="324.00" r="1.4" fill="#000"/>
<circle cx="436.78" cy="328.70" r="1.4" fill="#000"/>
<circle cx="437.90" cy="327.70" r="1.4" fill="#000"/>
<circle cx="439.01" cy="333.47" r="1.4" fill="#000"/>
<circle cx="440.12" cy="332.01" r="1.4" fill="#000"/>
<circle cx="441.24" cy="330.85" r="1.4" fill="#000"/>
<circle cx="442.35" cy="332.39" r="1.4" fill="#000"/>
<circle cx="443.47" cy="335.09" r="1.4" fill="#000"/>
<circle cx="444.58" cy="336.09" r="1.4" fill="#000"/>
<circle cx="445.70" cy="333.47" r="1.4" fill="#000"/>
<circle cx="446.81" cy="332.93" r="1.4" fill="#000"/>
<circle cx="447.93" cy="334.01" r="1.4" fill="#000"/>
<circle cx="449.04" cy="333.55" r="1.4" fill="#000"/>
<circle cx="450.16" cy="333.47" r="1.4" fill="#000"/>
<circle cx="451.27" cy="335.09" r="1.4" fill="#000"/>
<circle cx="452.38" cy="334.32" r="1.4" fill="#000"/>
<circle cx="453.50" cy="331.39" r="1.4" fill="#000"/>
<circle cx="454.61" cy="328.16" r="1.4" fill="#000"/>
<circle cx="455.73" cy="332.78" r="1.4" fill="#000"/>
<circle cx="456.84" cy="333.55" r="1.4" fill="#000"/>
<circle cx="457.96" cy="332.01" r="1.4" fill="#000"/>
<circle cx="459.07" cy="330.85" r="1.4" fill="#000"/>
<circle cx="460.19" cy="333.55" r="1.4" fill="#000"/>
<circle cx="461.30" cy="336.09" r="1.4" fill="#000"/>
<circle cx="462.41" cy="332.78" r="1.4" fill="#000"/>
<circle cx="463.53" cy="330.32" r="1.4" fill="#000"/>
<circle cx="464.64" cy="324.00" r="1.4" fill="#000"/>
<circle cx="465.76" cy="336.09" r="1.4" fill="#000"/>
<circle cx="466.87" cy="336.09" r="1.4" fill="#000"/>
<circle cx="467.99" cy="335.09" r="1.4" fill="#000"/>
<circle cx="469.10" cy="334.32" r="1.4" fill="#000"/>
<circle cx="470.22" cy="333.47" r="1.4" fill="#000"/>
<circle cx="471.33" cy="331.39" r="1.4" fill="#000"/>
<circle cx="472.44" cy="334.32" r="1.4" fill="#000"/>
<circle cx="473.56" cy="329.70" r="1.4" fill="#000"/>
<circle cx="474.67" cy="325.08" r="1.4" fill="#000"/>
<circle cx="475.79" cy="330.85" r="1.4" fill="#000"/>
<circle cx="476.90" cy="336.09" r="1.4" fill="#000"/>
<circle cx="478.02" cy="324.00" r="1.4" fill="#000"/>
<circle cx="479.13" cy="328.93" r="1.4" fill="#000"/>
<circle cx="480.25" cy="331.62" r="1.4" fill="#000"/>
<circle cx="481.36" cy="334.32" r="1.4" fill="#000"/>
<circle cx="482.48" cy="336.55" r="1.4" fill="#000"/>
<circle cx="483.59" cy="332.78" r="1.4" fill="#000"/>
<circle cx="484.70" cy="328.93" r="1.4" fill="#000"/>
<circle cx="485.82" cy="315.30" r="1.4" fill="#000"/>
<circle cx="486.93" cy="334.94" r="1.4" fill="#000"/>
<circle cx="488.05" cy="331.24" r="1.4" fill="#000"/>
<circle cx="489.16" cy="327.85" r="1.4" fill="#000"/>
<circle cx="490.28" cy="322.92" r="1.4" fill="#000"/>
<circle cx="491.39" cy="330.01" r="1.4" fill="#000"/>
<circle cx="492.51" cy="336.55" r="1.4" fill="#000"/>
<circle cx="493.62" cy="331.24" r="1.4" fill="#000"/>
<circle cx="494.73" cy="324.00" r="1.4" fill="#000"/>
<circle cx="495.85" cy="327.85" r="1.4" fill="#000"/>
<circle cx="496.96" cy="334.32" r="1.4" fill="#000"/>
<circle cx="498.08" cy="336.01" r="1.4" fill="#000"/>
<circle cx="499.19" cy="336.01" r="1.4" fill="#000"/>
<circle cx="500.31" cy="335.47" r="1.4" fill="#000"/>
<circle cx="501.42" cy="335.09" r="1.4" fill="#000"/>
<circle cx="502.54" cy="334.94" r="1.4" fill="#000"/>
<circle cx="503.65" cy="329.70" r="1.4" fill="#000"/>
<circle cx="504.77" cy="325.08" r="1.4" fill="#000"/>
<circle cx="505.88" cy="334.94" r="1.4" fill="#000"/>
<circle cx="506.99" cy="334.32" r="1.4" fill="#000"/>
<circle cx="508.11" cy="332.78" r="1.4" fill="#000"/>
<circle cx="509.22" cy="332.16" r="1.4" fill="#000"/>
<circle cx="510.34" cy="325.85" r="1.4" fill="#000"/>
<circle cx="511.45" cy="319.61" r="1.4" fill="#000"/>
<circle cx="515.91" cy="335.47" r="1.4" fill="#000"/>
<circle cx="517.02" cy="333.86" r="1.4" fill="#000"/>
<circle cx="518.14" cy="334.32" r="1.4" fill="#000"/>
<circle cx="519.25" cy="333.86" r="1.4" fill="#000"/>
<circle cx="520.37" cy="335.86" r="1.4" fill="#000"/>
<circle cx="521.48" cy="336.25" r="1.4" fill="#000"/>
<circle cx="522.60" cy="335.47" r="1.4" fill="#000"/>
<circle cx="523.71" cy="335.86" r="1.4" fill="#000"/>
<circle cx="524.83" cy="336.25" r="1.4" fill="#000"/>
<circle cx="525.94" cy="335.47" r="1.4" fill="#000"/>
<circle cx="527.06" cy="334.94" r="1.4" fill="#000"/>
<circle cx="528.17" cy="336.25" r="1.4" fill="#000"/>
<circle cx="529.28" cy="336.78" r="1.4" fill="#000"/>
<circle cx="530.40" cy="337.17" r="1.4" fill="#000"/>
<circle cx="531.51" cy="337.01" r="1.4" fill="#000"/>
<circle cx="532.63" cy="336.78" r="1.4" fill="#000"/>
<circle cx="533.74" cy="337.01" r="1.4" fill="#000"/>
<circle cx="534.86" cy="337.01" r="1.4" fill="#000"/>
<circle cx="535.97" cy="337.01" r="1.4" fill="#000"/>
<circle cx="537.09" cy="337.17" r="1.4" fill="#000"/>
<circle cx="538.20" cy="337.17" r="1.4" fill="#000"/>
<text transform="translate(17.2,94) rotate(-90)" font-size="10.2" text-anchor="middle" fill="#222">SFD (kg m<tspan dy="-3.5" font-size="6.5">−2</tspan><tspan dy="3.5"> day</tspan><tspan dy="-3.5" font-size="6.5">−1</tspan><tspan dy="3.5">)</tspan></text>
<text transform="translate(17.2,268) rotate(-90)" font-size="10.2" text-anchor="middle" fill="#222">SFD (kg m<tspan dy="-3.5" font-size="6.5">−2</tspan><tspan dy="3.5"> day</tspan><tspan dy="-3.5" font-size="6.5">−1</tspan><tspan dy="3.5">)</tspan></text>
<text x="155" y="362.7" font-size="10" text-anchor="middle" fill="#222">DOY</text>
<text x="422.3" y="364.5" font-size="10" text-anchor="middle" fill="#222">DOY</text>
<line x1="211.7" y1="38.7" x2="224.8" y2="38.7" stroke="#a8a8a8" stroke-width="0.8"/><circle cx="218.5" cy="38.7" r="1" fill="#8c8c8c"/>
<text x="226.4" y="41.8" font-size="9.3" fill="#222" textLength="34.8" lengthAdjust="spacingAndGlyphs">Daytime</text>
<line x1="211.7" y1="55.0" x2="224.8" y2="55.0" stroke="#000" stroke-width="1.5"/><circle cx="218.5" cy="55.0" r="1.5" fill="#000"/>
<text x="226.4" y="58.3" font-size="9.3" fill="#222" textLength="41" lengthAdjust="spacingAndGlyphs">Nighttime</text>
</svg></body></html>
